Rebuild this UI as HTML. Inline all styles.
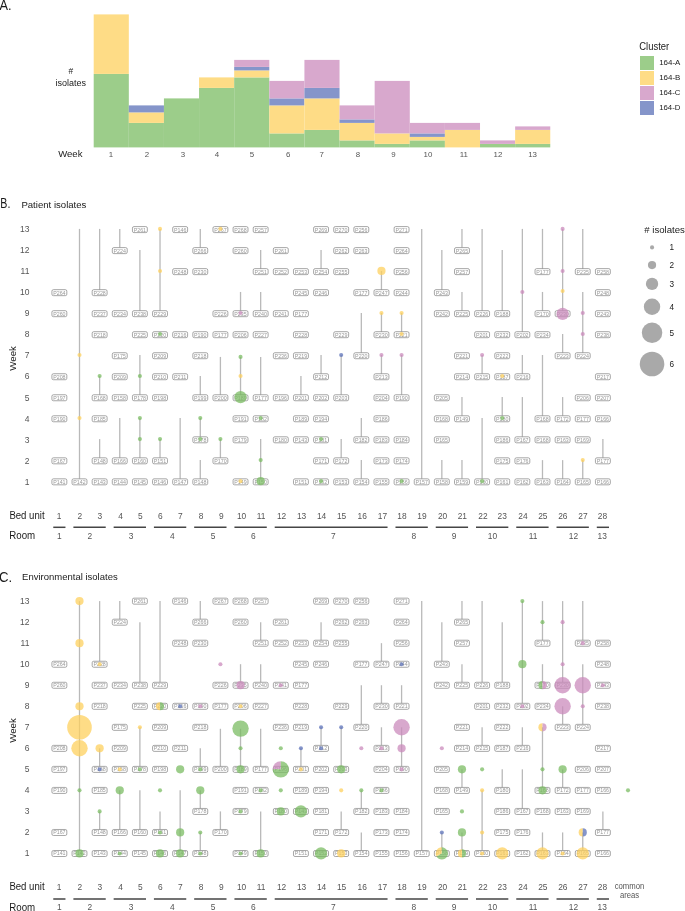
<!DOCTYPE html>
<html><head><meta charset="utf-8"><title>figure</title>
<style>html,body{margin:0;padding:0;background:#fff;width:685px;height:911px;overflow:hidden}</style>
</head><body>
<svg width="685" height="911" viewBox="0 0 685 911" style="display:block;will-change:transform;font-family:'Liberation Sans',sans-serif">
<rect width="685" height="911" fill="#fff"/>
<text transform="translate(-0.5 9.9) scale(0.9 1)" font-size="14.2" fill="#1a1a1a" text-anchor="start">A.</text>
<rect x="93.7" y="73.9" width="35.12" height="73.5" fill="#9ccd8a"/>
<rect x="93.7" y="14.4" width="35.12" height="59.5" fill="#fedc86"/>
<text x="110.9" y="157.1" font-size="7.9" fill="#555555" text-anchor="middle">1</text>
<rect x="128.82" y="122.9" width="35.12" height="24.5" fill="#9ccd8a"/>
<rect x="128.82" y="112.4" width="35.12" height="10.5" fill="#fedc86"/>
<rect x="128.82" y="105.4" width="35.12" height="7" fill="#8595ca"/>
<text x="147" y="157.1" font-size="7.9" fill="#555555" text-anchor="middle">2</text>
<rect x="163.94" y="98.4" width="35.12" height="49" fill="#9ccd8a"/>
<text x="182.9" y="157.1" font-size="7.9" fill="#555555" text-anchor="middle">3</text>
<rect x="199.06" y="87.9" width="35.12" height="59.5" fill="#9ccd8a"/>
<rect x="199.06" y="77.4" width="35.12" height="10.5" fill="#fedc86"/>
<text x="217" y="157.1" font-size="7.9" fill="#555555" text-anchor="middle">4</text>
<rect x="234.18" y="77.4" width="35.12" height="70" fill="#9ccd8a"/>
<rect x="234.18" y="70.4" width="35.12" height="7" fill="#fedc86"/>
<rect x="234.18" y="66.9" width="35.12" height="3.5" fill="#8595ca"/>
<rect x="234.18" y="59.9" width="35.12" height="7" fill="#d8a8cd"/>
<text x="252" y="157.1" font-size="7.9" fill="#555555" text-anchor="middle">5</text>
<rect x="269.3" y="133.4" width="35.12" height="14" fill="#9ccd8a"/>
<rect x="269.3" y="105.4" width="35.12" height="28" fill="#fedc86"/>
<rect x="269.3" y="98.4" width="35.12" height="7" fill="#8595ca"/>
<rect x="269.3" y="80.9" width="35.12" height="17.5" fill="#d8a8cd"/>
<text x="288.2" y="157.1" font-size="7.9" fill="#555555" text-anchor="middle">6</text>
<rect x="304.42" y="129.9" width="35.12" height="17.5" fill="#9ccd8a"/>
<rect x="304.42" y="98.4" width="35.12" height="31.5" fill="#fedc86"/>
<rect x="304.42" y="87.9" width="35.12" height="10.5" fill="#8595ca"/>
<rect x="304.42" y="59.9" width="35.12" height="28" fill="#d8a8cd"/>
<text x="321.6" y="157.1" font-size="7.9" fill="#555555" text-anchor="middle">7</text>
<rect x="339.54" y="140.4" width="35.12" height="7" fill="#9ccd8a"/>
<rect x="339.54" y="122.9" width="35.12" height="17.5" fill="#fedc86"/>
<rect x="339.54" y="119.4" width="35.12" height="3.5" fill="#8595ca"/>
<rect x="339.54" y="105.4" width="35.12" height="14" fill="#d8a8cd"/>
<text x="358" y="157.1" font-size="7.9" fill="#555555" text-anchor="middle">8</text>
<rect x="374.66" y="143.9" width="35.12" height="3.5" fill="#9ccd8a"/>
<rect x="374.66" y="133.4" width="35.12" height="10.5" fill="#fedc86"/>
<rect x="374.66" y="80.9" width="35.12" height="52.5" fill="#d8a8cd"/>
<text x="393.4" y="157.1" font-size="7.9" fill="#555555" text-anchor="middle">9</text>
<rect x="409.78" y="140.4" width="35.12" height="7" fill="#9ccd8a"/>
<rect x="409.78" y="136.9" width="35.12" height="3.5" fill="#fedc86"/>
<rect x="409.78" y="133.4" width="35.12" height="3.5" fill="#8595ca"/>
<rect x="409.78" y="122.9" width="35.12" height="10.5" fill="#d8a8cd"/>
<text x="428" y="157.1" font-size="7.9" fill="#555555" text-anchor="middle">10</text>
<rect x="444.9" y="129.9" width="35.12" height="17.5" fill="#fedc86"/>
<rect x="444.9" y="122.9" width="35.12" height="7" fill="#d8a8cd"/>
<text x="463.8" y="157.1" font-size="7.9" fill="#555555" text-anchor="middle">11</text>
<rect x="480.02" y="143.9" width="35.12" height="3.5" fill="#9ccd8a"/>
<rect x="480.02" y="140.4" width="35.12" height="3.5" fill="#d8a8cd"/>
<text x="498" y="157.1" font-size="7.9" fill="#555555" text-anchor="middle">12</text>
<rect x="515.14" y="143.9" width="35.12" height="3.5" fill="#9ccd8a"/>
<rect x="515.14" y="129.9" width="35.12" height="14" fill="#fedc86"/>
<rect x="515.14" y="126.4" width="35.12" height="3.5" fill="#d8a8cd"/>
<text x="532.6" y="157.1" font-size="7.9" fill="#555555" text-anchor="middle">13</text>
<text x="70.8" y="74.2" font-size="8.4" fill="#1a1a1a" text-anchor="middle">#</text>
<text x="70.65" y="86" font-size="9.1" fill="#1a1a1a" text-anchor="middle" textLength="30.5" lengthAdjust="spacingAndGlyphs">isolates</text>
<text x="70.35" y="157.3" font-size="9.7" fill="#1a1a1a" text-anchor="middle" textLength="24.3" lengthAdjust="spacingAndGlyphs">Week</text>
<text x="639.2" y="49.5" font-size="10.2" fill="#1a1a1a" text-anchor="start" textLength="30" lengthAdjust="spacingAndGlyphs">Cluster</text>
<rect x="640" y="56" width="14" height="14" fill="#9ccd8a"/>
<text x="659.2" y="65.35" font-size="7.6" fill="#1a1a1a" text-anchor="start" textLength="21.2" lengthAdjust="spacingAndGlyphs">164-A</text>
<rect x="640" y="71" width="14" height="14" fill="#fedc86"/>
<text x="659.2" y="80.35" font-size="7.6" fill="#1a1a1a" text-anchor="start" textLength="21.2" lengthAdjust="spacingAndGlyphs">164-B</text>
<rect x="640" y="86" width="14" height="14" fill="#d8a8cd"/>
<text x="659.2" y="95.35" font-size="7.6" fill="#1a1a1a" text-anchor="start" textLength="21.2" lengthAdjust="spacingAndGlyphs">164-C</text>
<rect x="640" y="101" width="14" height="14" fill="#8595ca"/>
<text x="659.2" y="110.35" font-size="7.6" fill="#1a1a1a" text-anchor="start" textLength="21.2" lengthAdjust="spacingAndGlyphs">164-D</text>
<text x="29.4" y="484.59" font-size="8.5" fill="#555555" text-anchor="end">1</text>
<text x="29.4" y="463.57" font-size="8.5" fill="#555555" text-anchor="end">2</text>
<text x="29.4" y="442.55" font-size="8.5" fill="#555555" text-anchor="end">3</text>
<text x="29.4" y="421.53" font-size="8.5" fill="#555555" text-anchor="end">4</text>
<text x="29.4" y="400.51" font-size="8.5" fill="#555555" text-anchor="end">5</text>
<text x="29.4" y="379.49" font-size="8.5" fill="#555555" text-anchor="end">6</text>
<text x="29.4" y="358.47" font-size="8.5" fill="#555555" text-anchor="end">7</text>
<text x="29.4" y="337.45" font-size="8.5" fill="#555555" text-anchor="end">8</text>
<text x="29.4" y="316.43" font-size="8.5" fill="#555555" text-anchor="end">9</text>
<text x="29.4" y="295.41" font-size="8.5" fill="#555555" text-anchor="end">10</text>
<text x="29.4" y="274.39" font-size="8.5" fill="#555555" text-anchor="end">11</text>
<text x="29.4" y="253.37" font-size="8.5" fill="#555555" text-anchor="end">12</text>
<text x="29.4" y="232.35" font-size="8.5" fill="#555555" text-anchor="end">13</text>
<text transform="translate(16.4 358.35) rotate(-90)" font-size="9.7" fill="#1a1a1a" text-anchor="middle">Week</text>
<g stroke="#b9b9b9" stroke-width="1.3">
<line x1="79.5" y1="228.9" x2="79.5" y2="481.84"/>
<line x1="99.63" y1="228.9" x2="99.63" y2="292.66"/>
<line x1="99.63" y1="376.04" x2="99.63" y2="397.76"/>
<line x1="99.63" y1="439.1" x2="99.63" y2="460.82"/>
<line x1="119.76" y1="228.9" x2="119.76" y2="250.62"/>
<line x1="119.76" y1="418.08" x2="119.76" y2="460.82"/>
<line x1="139.89" y1="249.92" x2="139.89" y2="313.68"/>
<line x1="139.89" y1="355.02" x2="139.89" y2="397.76"/>
<line x1="139.89" y1="418.08" x2="139.89" y2="460.82"/>
<line x1="160.02" y1="228.9" x2="160.02" y2="313.68"/>
<line x1="160.02" y1="439.1" x2="160.02" y2="460.82"/>
<line x1="180.15" y1="418.08" x2="180.15" y2="481.84"/>
<line x1="200.28" y1="228.9" x2="200.28" y2="250.62"/>
<line x1="200.28" y1="376.04" x2="200.28" y2="397.76"/>
<line x1="200.28" y1="418.08" x2="200.28" y2="439.8"/>
<line x1="200.28" y1="460.12" x2="200.28" y2="481.84"/>
<line x1="220.41" y1="356.92" x2="220.41" y2="397.76"/>
<line x1="220.41" y1="439.1" x2="220.41" y2="460.82"/>
<line x1="240.54" y1="291.96" x2="240.54" y2="313.68"/>
<line x1="240.54" y1="356.92" x2="240.54" y2="397.76"/>
<line x1="260.67" y1="249.92" x2="260.67" y2="271.64"/>
<line x1="260.67" y1="291.96" x2="260.67" y2="313.68"/>
<line x1="260.67" y1="356.92" x2="260.67" y2="397.76"/>
<line x1="260.67" y1="439.1" x2="260.67" y2="481.84"/>
<line x1="300.93" y1="376.04" x2="300.93" y2="397.76"/>
<line x1="321.06" y1="249.92" x2="321.06" y2="271.64"/>
<line x1="321.06" y1="355.02" x2="321.06" y2="376.74"/>
<line x1="341.19" y1="355.02" x2="341.19" y2="397.76"/>
<line x1="341.19" y1="439.1" x2="341.19" y2="460.82"/>
<line x1="361.32" y1="312.98" x2="361.32" y2="355.72"/>
<line x1="361.32" y1="418.08" x2="361.32" y2="439.8"/>
<line x1="361.32" y1="460.12" x2="361.32" y2="481.84"/>
<line x1="381.45" y1="270.94" x2="381.45" y2="292.66"/>
<line x1="381.45" y1="312.98" x2="381.45" y2="334.7"/>
<line x1="381.45" y1="355.02" x2="381.45" y2="376.74"/>
<line x1="401.58" y1="312.98" x2="401.58" y2="334.7"/>
<line x1="401.58" y1="355.02" x2="401.58" y2="397.76"/>
<line x1="421.71" y1="228.9" x2="421.71" y2="481.84"/>
<line x1="441.84" y1="249.92" x2="441.84" y2="292.66"/>
<line x1="441.84" y1="460.12" x2="441.84" y2="481.84"/>
<line x1="461.97" y1="228.9" x2="461.97" y2="250.62"/>
<line x1="461.97" y1="291.96" x2="461.97" y2="313.68"/>
<line x1="461.97" y1="397.06" x2="461.97" y2="418.78"/>
<line x1="461.97" y1="460.12" x2="461.97" y2="481.84"/>
<line x1="482.1" y1="228.9" x2="482.1" y2="313.68"/>
<line x1="482.1" y1="355.02" x2="482.1" y2="376.74"/>
<line x1="482.1" y1="418.08" x2="482.1" y2="481.84"/>
<line x1="502.23" y1="249.92" x2="502.23" y2="313.68"/>
<line x1="502.23" y1="397.06" x2="502.23" y2="418.78"/>
<line x1="522.36" y1="228.9" x2="522.36" y2="334.7"/>
<line x1="522.36" y1="355.02" x2="522.36" y2="376.74"/>
<line x1="522.36" y1="397.06" x2="522.36" y2="439.8"/>
<line x1="542.49" y1="228.9" x2="542.49" y2="271.64"/>
<line x1="542.49" y1="291.96" x2="542.49" y2="313.68"/>
<line x1="542.49" y1="355.02" x2="542.49" y2="418.78"/>
<line x1="542.49" y1="460.12" x2="542.49" y2="481.84"/>
<line x1="562.62" y1="228.9" x2="562.62" y2="313.68"/>
<line x1="562.62" y1="334" x2="562.62" y2="355.72"/>
<line x1="562.62" y1="397.06" x2="562.62" y2="418.78"/>
<line x1="562.62" y1="460.12" x2="562.62" y2="481.84"/>
<line x1="582.75" y1="228.9" x2="582.75" y2="271.64"/>
<line x1="582.75" y1="291.96" x2="582.75" y2="355.72"/>
<line x1="582.75" y1="460.12" x2="582.75" y2="481.84"/>
<line x1="602.88" y1="439.1" x2="602.88" y2="460.82"/>
</g>
<g fill="#fff" stroke="#8a8a8a" stroke-width="0.75">
<rect x="51.92" y="289.66" width="14.9" height="6" rx="1.5"/>
<rect x="51.92" y="310.68" width="14.9" height="6" rx="1.5"/>
<rect x="51.92" y="373.74" width="14.9" height="6" rx="1.5"/>
<rect x="51.92" y="394.76" width="14.9" height="6" rx="1.5"/>
<rect x="51.92" y="415.78" width="14.9" height="6" rx="1.5"/>
<rect x="51.92" y="457.82" width="14.9" height="6" rx="1.5"/>
<rect x="51.92" y="478.84" width="14.9" height="6" rx="1.5"/>
<rect x="72.05" y="478.84" width="14.9" height="6" rx="1.5"/>
<rect x="92.18" y="289.66" width="14.9" height="6" rx="1.5"/>
<rect x="92.18" y="310.68" width="14.9" height="6" rx="1.5"/>
<rect x="92.18" y="331.7" width="14.9" height="6" rx="1.5"/>
<rect x="92.18" y="394.76" width="14.9" height="6" rx="1.5"/>
<rect x="92.18" y="415.78" width="14.9" height="6" rx="1.5"/>
<rect x="92.18" y="457.82" width="14.9" height="6" rx="1.5"/>
<rect x="92.18" y="478.84" width="14.9" height="6" rx="1.5"/>
<rect x="112.31" y="247.62" width="14.9" height="6" rx="1.5"/>
<rect x="112.31" y="310.68" width="14.9" height="6" rx="1.5"/>
<rect x="112.31" y="352.72" width="14.9" height="6" rx="1.5"/>
<rect x="112.31" y="373.74" width="14.9" height="6" rx="1.5"/>
<rect x="112.31" y="394.76" width="14.9" height="6" rx="1.5"/>
<rect x="112.31" y="457.82" width="14.9" height="6" rx="1.5"/>
<rect x="112.31" y="478.84" width="14.9" height="6" rx="1.5"/>
<rect x="132.44" y="226.6" width="14.9" height="6" rx="1.5"/>
<rect x="132.44" y="310.68" width="14.9" height="6" rx="1.5"/>
<rect x="132.44" y="331.7" width="14.9" height="6" rx="1.5"/>
<rect x="132.44" y="394.76" width="14.9" height="6" rx="1.5"/>
<rect x="132.44" y="457.82" width="14.9" height="6" rx="1.5"/>
<rect x="132.44" y="478.84" width="14.9" height="6" rx="1.5"/>
<rect x="152.57" y="310.68" width="14.9" height="6" rx="1.5"/>
<rect x="152.57" y="331.7" width="14.9" height="6" rx="1.5"/>
<rect x="152.57" y="352.72" width="14.9" height="6" rx="1.5"/>
<rect x="152.57" y="373.74" width="14.9" height="6" rx="1.5"/>
<rect x="152.57" y="394.76" width="14.9" height="6" rx="1.5"/>
<rect x="152.57" y="457.82" width="14.9" height="6" rx="1.5"/>
<rect x="152.57" y="478.84" width="14.9" height="6" rx="1.5"/>
<rect x="172.7" y="226.6" width="14.9" height="6" rx="1.5"/>
<rect x="172.7" y="268.64" width="14.9" height="6" rx="1.5"/>
<rect x="172.7" y="331.7" width="14.9" height="6" rx="1.5"/>
<rect x="172.7" y="373.74" width="14.9" height="6" rx="1.5"/>
<rect x="172.7" y="478.84" width="14.9" height="6" rx="1.5"/>
<rect x="192.83" y="247.62" width="14.9" height="6" rx="1.5"/>
<rect x="192.83" y="268.64" width="14.9" height="6" rx="1.5"/>
<rect x="192.83" y="331.7" width="14.9" height="6" rx="1.5"/>
<rect x="192.83" y="352.72" width="14.9" height="6" rx="1.5"/>
<rect x="192.83" y="394.76" width="14.9" height="6" rx="1.5"/>
<rect x="192.83" y="436.8" width="14.9" height="6" rx="1.5"/>
<rect x="192.83" y="478.84" width="14.9" height="6" rx="1.5"/>
<rect x="212.96" y="226.6" width="14.9" height="6" rx="1.5"/>
<rect x="212.96" y="310.68" width="14.9" height="6" rx="1.5"/>
<rect x="212.96" y="331.7" width="14.9" height="6" rx="1.5"/>
<rect x="212.96" y="394.76" width="14.9" height="6" rx="1.5"/>
<rect x="212.96" y="457.82" width="14.9" height="6" rx="1.5"/>
<rect x="233.09" y="226.6" width="14.9" height="6" rx="1.5"/>
<rect x="233.09" y="247.62" width="14.9" height="6" rx="1.5"/>
<rect x="233.09" y="310.68" width="14.9" height="6" rx="1.5"/>
<rect x="233.09" y="331.7" width="14.9" height="6" rx="1.5"/>
<rect x="233.09" y="394.76" width="14.9" height="6" rx="1.5"/>
<rect x="233.09" y="415.78" width="14.9" height="6" rx="1.5"/>
<rect x="233.09" y="436.8" width="14.9" height="6" rx="1.5"/>
<rect x="233.09" y="478.84" width="14.9" height="6" rx="1.5"/>
<rect x="253.22" y="226.6" width="14.9" height="6" rx="1.5"/>
<rect x="253.22" y="268.64" width="14.9" height="6" rx="1.5"/>
<rect x="253.22" y="310.68" width="14.9" height="6" rx="1.5"/>
<rect x="253.22" y="331.7" width="14.9" height="6" rx="1.5"/>
<rect x="253.22" y="394.76" width="14.9" height="6" rx="1.5"/>
<rect x="253.22" y="415.78" width="14.9" height="6" rx="1.5"/>
<rect x="253.22" y="478.84" width="14.9" height="6" rx="1.5"/>
<rect x="273.35" y="247.62" width="14.9" height="6" rx="1.5"/>
<rect x="273.35" y="268.64" width="14.9" height="6" rx="1.5"/>
<rect x="273.35" y="310.68" width="14.9" height="6" rx="1.5"/>
<rect x="273.35" y="352.72" width="14.9" height="6" rx="1.5"/>
<rect x="273.35" y="394.76" width="14.9" height="6" rx="1.5"/>
<rect x="273.35" y="436.8" width="14.9" height="6" rx="1.5"/>
<rect x="293.48" y="268.64" width="14.9" height="6" rx="1.5"/>
<rect x="293.48" y="289.66" width="14.9" height="6" rx="1.5"/>
<rect x="293.48" y="310.68" width="14.9" height="6" rx="1.5"/>
<rect x="293.48" y="331.7" width="14.9" height="6" rx="1.5"/>
<rect x="293.48" y="352.72" width="14.9" height="6" rx="1.5"/>
<rect x="293.48" y="394.76" width="14.9" height="6" rx="1.5"/>
<rect x="293.48" y="415.78" width="14.9" height="6" rx="1.5"/>
<rect x="293.48" y="436.8" width="14.9" height="6" rx="1.5"/>
<rect x="293.48" y="478.84" width="14.9" height="6" rx="1.5"/>
<rect x="313.61" y="226.6" width="14.9" height="6" rx="1.5"/>
<rect x="313.61" y="268.64" width="14.9" height="6" rx="1.5"/>
<rect x="313.61" y="289.66" width="14.9" height="6" rx="1.5"/>
<rect x="313.61" y="373.74" width="14.9" height="6" rx="1.5"/>
<rect x="313.61" y="394.76" width="14.9" height="6" rx="1.5"/>
<rect x="313.61" y="415.78" width="14.9" height="6" rx="1.5"/>
<rect x="313.61" y="436.8" width="14.9" height="6" rx="1.5"/>
<rect x="313.61" y="457.82" width="14.9" height="6" rx="1.5"/>
<rect x="313.61" y="478.84" width="14.9" height="6" rx="1.5"/>
<rect x="333.74" y="226.6" width="14.9" height="6" rx="1.5"/>
<rect x="333.74" y="247.62" width="14.9" height="6" rx="1.5"/>
<rect x="333.74" y="268.64" width="14.9" height="6" rx="1.5"/>
<rect x="333.74" y="331.7" width="14.9" height="6" rx="1.5"/>
<rect x="333.74" y="394.76" width="14.9" height="6" rx="1.5"/>
<rect x="333.74" y="457.82" width="14.9" height="6" rx="1.5"/>
<rect x="333.74" y="478.84" width="14.9" height="6" rx="1.5"/>
<rect x="353.87" y="226.6" width="14.9" height="6" rx="1.5"/>
<rect x="353.87" y="247.62" width="14.9" height="6" rx="1.5"/>
<rect x="353.87" y="289.66" width="14.9" height="6" rx="1.5"/>
<rect x="353.87" y="352.72" width="14.9" height="6" rx="1.5"/>
<rect x="353.87" y="436.8" width="14.9" height="6" rx="1.5"/>
<rect x="353.87" y="478.84" width="14.9" height="6" rx="1.5"/>
<rect x="374" y="289.66" width="14.9" height="6" rx="1.5"/>
<rect x="374" y="331.7" width="14.9" height="6" rx="1.5"/>
<rect x="374" y="373.74" width="14.9" height="6" rx="1.5"/>
<rect x="374" y="394.76" width="14.9" height="6" rx="1.5"/>
<rect x="374" y="415.78" width="14.9" height="6" rx="1.5"/>
<rect x="374" y="436.8" width="14.9" height="6" rx="1.5"/>
<rect x="374" y="457.82" width="14.9" height="6" rx="1.5"/>
<rect x="374" y="478.84" width="14.9" height="6" rx="1.5"/>
<rect x="394.13" y="226.6" width="14.9" height="6" rx="1.5"/>
<rect x="394.13" y="247.62" width="14.9" height="6" rx="1.5"/>
<rect x="394.13" y="268.64" width="14.9" height="6" rx="1.5"/>
<rect x="394.13" y="289.66" width="14.9" height="6" rx="1.5"/>
<rect x="394.13" y="331.7" width="14.9" height="6" rx="1.5"/>
<rect x="394.13" y="394.76" width="14.9" height="6" rx="1.5"/>
<rect x="394.13" y="436.8" width="14.9" height="6" rx="1.5"/>
<rect x="394.13" y="457.82" width="14.9" height="6" rx="1.5"/>
<rect x="394.13" y="478.84" width="14.9" height="6" rx="1.5"/>
<rect x="414.26" y="478.84" width="14.9" height="6" rx="1.5"/>
<rect x="434.39" y="289.66" width="14.9" height="6" rx="1.5"/>
<rect x="434.39" y="310.68" width="14.9" height="6" rx="1.5"/>
<rect x="434.39" y="394.76" width="14.9" height="6" rx="1.5"/>
<rect x="434.39" y="415.78" width="14.9" height="6" rx="1.5"/>
<rect x="434.39" y="436.8" width="14.9" height="6" rx="1.5"/>
<rect x="434.39" y="478.84" width="14.9" height="6" rx="1.5"/>
<rect x="454.52" y="247.62" width="14.9" height="6" rx="1.5"/>
<rect x="454.52" y="268.64" width="14.9" height="6" rx="1.5"/>
<rect x="454.52" y="310.68" width="14.9" height="6" rx="1.5"/>
<rect x="454.52" y="352.72" width="14.9" height="6" rx="1.5"/>
<rect x="454.52" y="373.74" width="14.9" height="6" rx="1.5"/>
<rect x="454.52" y="415.78" width="14.9" height="6" rx="1.5"/>
<rect x="454.52" y="478.84" width="14.9" height="6" rx="1.5"/>
<rect x="474.65" y="310.68" width="14.9" height="6" rx="1.5"/>
<rect x="474.65" y="331.7" width="14.9" height="6" rx="1.5"/>
<rect x="474.65" y="373.74" width="14.9" height="6" rx="1.5"/>
<rect x="474.65" y="478.84" width="14.9" height="6" rx="1.5"/>
<rect x="494.78" y="310.68" width="14.9" height="6" rx="1.5"/>
<rect x="494.78" y="331.7" width="14.9" height="6" rx="1.5"/>
<rect x="494.78" y="352.72" width="14.9" height="6" rx="1.5"/>
<rect x="494.78" y="373.74" width="14.9" height="6" rx="1.5"/>
<rect x="494.78" y="415.78" width="14.9" height="6" rx="1.5"/>
<rect x="494.78" y="436.8" width="14.9" height="6" rx="1.5"/>
<rect x="494.78" y="457.82" width="14.9" height="6" rx="1.5"/>
<rect x="494.78" y="478.84" width="14.9" height="6" rx="1.5"/>
<rect x="514.91" y="331.7" width="14.9" height="6" rx="1.5"/>
<rect x="514.91" y="373.74" width="14.9" height="6" rx="1.5"/>
<rect x="514.91" y="436.8" width="14.9" height="6" rx="1.5"/>
<rect x="514.91" y="457.82" width="14.9" height="6" rx="1.5"/>
<rect x="514.91" y="478.84" width="14.9" height="6" rx="1.5"/>
<rect x="535.04" y="268.64" width="14.9" height="6" rx="1.5"/>
<rect x="535.04" y="310.68" width="14.9" height="6" rx="1.5"/>
<rect x="535.04" y="331.7" width="14.9" height="6" rx="1.5"/>
<rect x="535.04" y="415.78" width="14.9" height="6" rx="1.5"/>
<rect x="535.04" y="436.8" width="14.9" height="6" rx="1.5"/>
<rect x="535.04" y="478.84" width="14.9" height="6" rx="1.5"/>
<rect x="555.17" y="310.68" width="14.9" height="6" rx="1.5"/>
<rect x="555.17" y="352.72" width="14.9" height="6" rx="1.5"/>
<rect x="555.17" y="415.78" width="14.9" height="6" rx="1.5"/>
<rect x="555.17" y="436.8" width="14.9" height="6" rx="1.5"/>
<rect x="555.17" y="478.84" width="14.9" height="6" rx="1.5"/>
<rect x="575.3" y="268.64" width="14.9" height="6" rx="1.5"/>
<rect x="575.3" y="352.72" width="14.9" height="6" rx="1.5"/>
<rect x="575.3" y="394.76" width="14.9" height="6" rx="1.5"/>
<rect x="575.3" y="415.78" width="14.9" height="6" rx="1.5"/>
<rect x="575.3" y="436.8" width="14.9" height="6" rx="1.5"/>
<rect x="575.3" y="478.84" width="14.9" height="6" rx="1.5"/>
<rect x="595.43" y="268.64" width="14.9" height="6" rx="1.5"/>
<rect x="595.43" y="289.66" width="14.9" height="6" rx="1.5"/>
<rect x="595.43" y="310.68" width="14.9" height="6" rx="1.5"/>
<rect x="595.43" y="331.7" width="14.9" height="6" rx="1.5"/>
<rect x="595.43" y="373.74" width="14.9" height="6" rx="1.5"/>
<rect x="595.43" y="394.76" width="14.9" height="6" rx="1.5"/>
<rect x="595.43" y="415.78" width="14.9" height="6" rx="1.5"/>
<rect x="595.43" y="457.82" width="14.9" height="6" rx="1.5"/>
<rect x="595.43" y="478.84" width="14.9" height="6" rx="1.5"/>
</g>
<g font-size="5.7" fill="#999" text-anchor="middle">
<text x="59.37" y="294.61" textLength="12.4" lengthAdjust="spacingAndGlyphs">P264</text>
<text x="59.37" y="315.63" textLength="12.4" lengthAdjust="spacingAndGlyphs">P260</text>
<text x="59.37" y="378.69" textLength="12.4" lengthAdjust="spacingAndGlyphs">P208</text>
<text x="59.37" y="399.71" textLength="12.4" lengthAdjust="spacingAndGlyphs">P197</text>
<text x="59.37" y="420.73" textLength="12.4" lengthAdjust="spacingAndGlyphs">P190</text>
<text x="59.37" y="462.77" textLength="12.4" lengthAdjust="spacingAndGlyphs">P167</text>
<text x="59.37" y="483.79" textLength="12.4" lengthAdjust="spacingAndGlyphs">P141</text>
<text x="79.5" y="483.79" textLength="12.4" lengthAdjust="spacingAndGlyphs">P142</text>
<text x="99.63" y="294.61" textLength="12.4" lengthAdjust="spacingAndGlyphs">P228</text>
<text x="99.63" y="315.63" textLength="12.4" lengthAdjust="spacingAndGlyphs">P237</text>
<text x="99.63" y="336.65" textLength="12.4" lengthAdjust="spacingAndGlyphs">P218</text>
<text x="99.63" y="399.71" textLength="12.4" lengthAdjust="spacingAndGlyphs">P168</text>
<text x="99.63" y="420.73" textLength="12.4" lengthAdjust="spacingAndGlyphs">P185</text>
<text x="99.63" y="462.77" textLength="12.4" lengthAdjust="spacingAndGlyphs">P148</text>
<text x="99.63" y="483.79" textLength="12.4" lengthAdjust="spacingAndGlyphs">P143</text>
<text x="119.76" y="252.57" textLength="12.4" lengthAdjust="spacingAndGlyphs">P224</text>
<text x="119.76" y="315.63" textLength="12.4" lengthAdjust="spacingAndGlyphs">P234</text>
<text x="119.76" y="357.67" textLength="12.4" lengthAdjust="spacingAndGlyphs">P175</text>
<text x="119.76" y="378.69" textLength="12.4" lengthAdjust="spacingAndGlyphs">P209</text>
<text x="119.76" y="399.71" textLength="12.4" lengthAdjust="spacingAndGlyphs">P158</text>
<text x="119.76" y="462.77" textLength="12.4" lengthAdjust="spacingAndGlyphs">P166</text>
<text x="119.76" y="483.79" textLength="12.4" lengthAdjust="spacingAndGlyphs">P144</text>
<text x="139.89" y="231.55" textLength="12.4" lengthAdjust="spacingAndGlyphs">P261</text>
<text x="139.89" y="315.63" textLength="12.4" lengthAdjust="spacingAndGlyphs">P238</text>
<text x="139.89" y="336.65" textLength="12.4" lengthAdjust="spacingAndGlyphs">P225</text>
<text x="139.89" y="399.71" textLength="12.4" lengthAdjust="spacingAndGlyphs">P178</text>
<text x="139.89" y="462.77" textLength="12.4" lengthAdjust="spacingAndGlyphs">P160</text>
<text x="139.89" y="483.79" textLength="12.4" lengthAdjust="spacingAndGlyphs">P145</text>
<text x="160.02" y="315.63" textLength="12.4" lengthAdjust="spacingAndGlyphs">P229</text>
<text x="160.02" y="336.65" textLength="12.4" lengthAdjust="spacingAndGlyphs">P220</text>
<text x="160.02" y="357.67" textLength="12.4" lengthAdjust="spacingAndGlyphs">P209</text>
<text x="160.02" y="378.69" textLength="12.4" lengthAdjust="spacingAndGlyphs">P210</text>
<text x="160.02" y="399.71" textLength="12.4" lengthAdjust="spacingAndGlyphs">P198</text>
<text x="160.02" y="462.77" textLength="12.4" lengthAdjust="spacingAndGlyphs">P151</text>
<text x="160.02" y="483.79" textLength="12.4" lengthAdjust="spacingAndGlyphs">P146</text>
<text x="180.15" y="231.55" textLength="12.4" lengthAdjust="spacingAndGlyphs">P146</text>
<text x="180.15" y="273.59" textLength="12.4" lengthAdjust="spacingAndGlyphs">P248</text>
<text x="180.15" y="336.65" textLength="12.4" lengthAdjust="spacingAndGlyphs">P216</text>
<text x="180.15" y="378.69" textLength="12.4" lengthAdjust="spacingAndGlyphs">P211</text>
<text x="180.15" y="483.79" textLength="12.4" lengthAdjust="spacingAndGlyphs">P147</text>
<text x="200.28" y="252.57" textLength="12.4" lengthAdjust="spacingAndGlyphs">P266</text>
<text x="200.28" y="273.59" textLength="12.4" lengthAdjust="spacingAndGlyphs">P230</text>
<text x="200.28" y="336.65" textLength="12.4" lengthAdjust="spacingAndGlyphs">P190</text>
<text x="200.28" y="357.67" textLength="12.4" lengthAdjust="spacingAndGlyphs">P218</text>
<text x="200.28" y="399.71" textLength="12.4" lengthAdjust="spacingAndGlyphs">P199</text>
<text x="200.28" y="441.75" textLength="12.4" lengthAdjust="spacingAndGlyphs">P178</text>
<text x="200.28" y="483.79" textLength="12.4" lengthAdjust="spacingAndGlyphs">P148</text>
<text x="220.41" y="231.55" textLength="12.4" lengthAdjust="spacingAndGlyphs">P267</text>
<text x="220.41" y="315.63" textLength="12.4" lengthAdjust="spacingAndGlyphs">P226</text>
<text x="220.41" y="336.65" textLength="12.4" lengthAdjust="spacingAndGlyphs">P177</text>
<text x="220.41" y="399.71" textLength="12.4" lengthAdjust="spacingAndGlyphs">P200</text>
<text x="220.41" y="462.77" textLength="12.4" lengthAdjust="spacingAndGlyphs">P170</text>
<text x="240.54" y="231.55" textLength="12.4" lengthAdjust="spacingAndGlyphs">P268</text>
<text x="240.54" y="252.57" textLength="12.4" lengthAdjust="spacingAndGlyphs">P260</text>
<text x="240.54" y="315.63" textLength="12.4" lengthAdjust="spacingAndGlyphs">P235</text>
<text x="240.54" y="336.65" textLength="12.4" lengthAdjust="spacingAndGlyphs">P206</text>
<text x="240.54" y="399.71" textLength="12.4" lengthAdjust="spacingAndGlyphs">P189</text>
<text x="240.54" y="420.73" textLength="12.4" lengthAdjust="spacingAndGlyphs">P191</text>
<text x="240.54" y="441.75" textLength="12.4" lengthAdjust="spacingAndGlyphs">P179</text>
<text x="240.54" y="483.79" textLength="12.4" lengthAdjust="spacingAndGlyphs">P149</text>
<text x="260.67" y="231.55" textLength="12.4" lengthAdjust="spacingAndGlyphs">P257</text>
<text x="260.67" y="273.59" textLength="12.4" lengthAdjust="spacingAndGlyphs">P251</text>
<text x="260.67" y="315.63" textLength="12.4" lengthAdjust="spacingAndGlyphs">P240</text>
<text x="260.67" y="336.65" textLength="12.4" lengthAdjust="spacingAndGlyphs">P227</text>
<text x="260.67" y="399.71" textLength="12.4" lengthAdjust="spacingAndGlyphs">P177</text>
<text x="260.67" y="420.73" textLength="12.4" lengthAdjust="spacingAndGlyphs">P182</text>
<text x="260.67" y="483.79" textLength="12.4" lengthAdjust="spacingAndGlyphs">P150</text>
<text x="280.8" y="252.57" textLength="12.4" lengthAdjust="spacingAndGlyphs">P261</text>
<text x="280.8" y="273.59" textLength="12.4" lengthAdjust="spacingAndGlyphs">P252</text>
<text x="280.8" y="315.63" textLength="12.4" lengthAdjust="spacingAndGlyphs">P241</text>
<text x="280.8" y="357.67" textLength="12.4" lengthAdjust="spacingAndGlyphs">P236</text>
<text x="280.8" y="399.71" textLength="12.4" lengthAdjust="spacingAndGlyphs">P196</text>
<text x="280.8" y="441.75" textLength="12.4" lengthAdjust="spacingAndGlyphs">P180</text>
<text x="300.93" y="273.59" textLength="12.4" lengthAdjust="spacingAndGlyphs">P253</text>
<text x="300.93" y="294.61" textLength="12.4" lengthAdjust="spacingAndGlyphs">P245</text>
<text x="300.93" y="315.63" textLength="12.4" lengthAdjust="spacingAndGlyphs">P177</text>
<text x="300.93" y="336.65" textLength="12.4" lengthAdjust="spacingAndGlyphs">P228</text>
<text x="300.93" y="357.67" textLength="12.4" lengthAdjust="spacingAndGlyphs">P219</text>
<text x="300.93" y="399.71" textLength="12.4" lengthAdjust="spacingAndGlyphs">P201</text>
<text x="300.93" y="420.73" textLength="12.4" lengthAdjust="spacingAndGlyphs">P189</text>
<text x="300.93" y="441.75" textLength="12.4" lengthAdjust="spacingAndGlyphs">P143</text>
<text x="300.93" y="483.79" textLength="12.4" lengthAdjust="spacingAndGlyphs">P151</text>
<text x="321.06" y="231.55" textLength="12.4" lengthAdjust="spacingAndGlyphs">P269</text>
<text x="321.06" y="273.59" textLength="12.4" lengthAdjust="spacingAndGlyphs">P254</text>
<text x="321.06" y="294.61" textLength="12.4" lengthAdjust="spacingAndGlyphs">P246</text>
<text x="321.06" y="378.69" textLength="12.4" lengthAdjust="spacingAndGlyphs">P212</text>
<text x="321.06" y="399.71" textLength="12.4" lengthAdjust="spacingAndGlyphs">P202</text>
<text x="321.06" y="420.73" textLength="12.4" lengthAdjust="spacingAndGlyphs">P194</text>
<text x="321.06" y="441.75" textLength="12.4" lengthAdjust="spacingAndGlyphs">P181</text>
<text x="321.06" y="462.77" textLength="12.4" lengthAdjust="spacingAndGlyphs">P171</text>
<text x="321.06" y="483.79" textLength="12.4" lengthAdjust="spacingAndGlyphs">P152</text>
<text x="341.19" y="231.55" textLength="12.4" lengthAdjust="spacingAndGlyphs">P270</text>
<text x="341.19" y="252.57" textLength="12.4" lengthAdjust="spacingAndGlyphs">P262</text>
<text x="341.19" y="273.59" textLength="12.4" lengthAdjust="spacingAndGlyphs">P255</text>
<text x="341.19" y="336.65" textLength="12.4" lengthAdjust="spacingAndGlyphs">P229</text>
<text x="341.19" y="399.71" textLength="12.4" lengthAdjust="spacingAndGlyphs">P203</text>
<text x="341.19" y="462.77" textLength="12.4" lengthAdjust="spacingAndGlyphs">P172</text>
<text x="341.19" y="483.79" textLength="12.4" lengthAdjust="spacingAndGlyphs">P153</text>
<text x="361.32" y="231.55" textLength="12.4" lengthAdjust="spacingAndGlyphs">P256</text>
<text x="361.32" y="252.57" textLength="12.4" lengthAdjust="spacingAndGlyphs">P263</text>
<text x="361.32" y="294.61" textLength="12.4" lengthAdjust="spacingAndGlyphs">P177</text>
<text x="361.32" y="357.67" textLength="12.4" lengthAdjust="spacingAndGlyphs">P220</text>
<text x="361.32" y="441.75" textLength="12.4" lengthAdjust="spacingAndGlyphs">P182</text>
<text x="361.32" y="483.79" textLength="12.4" lengthAdjust="spacingAndGlyphs">P154</text>
<text x="381.45" y="294.61" textLength="12.4" lengthAdjust="spacingAndGlyphs">P247</text>
<text x="381.45" y="336.65" textLength="12.4" lengthAdjust="spacingAndGlyphs">P230</text>
<text x="381.45" y="378.69" textLength="12.4" lengthAdjust="spacingAndGlyphs">P213</text>
<text x="381.45" y="399.71" textLength="12.4" lengthAdjust="spacingAndGlyphs">P204</text>
<text x="381.45" y="420.73" textLength="12.4" lengthAdjust="spacingAndGlyphs">P186</text>
<text x="381.45" y="441.75" textLength="12.4" lengthAdjust="spacingAndGlyphs">P183</text>
<text x="381.45" y="462.77" textLength="12.4" lengthAdjust="spacingAndGlyphs">P173</text>
<text x="381.45" y="483.79" textLength="12.4" lengthAdjust="spacingAndGlyphs">P155</text>
<text x="401.58" y="231.55" textLength="12.4" lengthAdjust="spacingAndGlyphs">P271</text>
<text x="401.58" y="252.57" textLength="12.4" lengthAdjust="spacingAndGlyphs">P264</text>
<text x="401.58" y="273.59" textLength="12.4" lengthAdjust="spacingAndGlyphs">P256</text>
<text x="401.58" y="294.61" textLength="12.4" lengthAdjust="spacingAndGlyphs">P244</text>
<text x="401.58" y="336.65" textLength="12.4" lengthAdjust="spacingAndGlyphs">P221</text>
<text x="401.58" y="399.71" textLength="12.4" lengthAdjust="spacingAndGlyphs">P190</text>
<text x="401.58" y="441.75" textLength="12.4" lengthAdjust="spacingAndGlyphs">P184</text>
<text x="401.58" y="462.77" textLength="12.4" lengthAdjust="spacingAndGlyphs">P174</text>
<text x="401.58" y="483.79" textLength="12.4" lengthAdjust="spacingAndGlyphs">P156</text>
<text x="421.71" y="483.79" textLength="12.4" lengthAdjust="spacingAndGlyphs">P157</text>
<text x="441.84" y="294.61" textLength="12.4" lengthAdjust="spacingAndGlyphs">P243</text>
<text x="441.84" y="315.63" textLength="12.4" lengthAdjust="spacingAndGlyphs">P242</text>
<text x="441.84" y="399.71" textLength="12.4" lengthAdjust="spacingAndGlyphs">P205</text>
<text x="441.84" y="420.73" textLength="12.4" lengthAdjust="spacingAndGlyphs">P168</text>
<text x="441.84" y="441.75" textLength="12.4" lengthAdjust="spacingAndGlyphs">P165</text>
<text x="441.84" y="483.79" textLength="12.4" lengthAdjust="spacingAndGlyphs">P158</text>
<text x="461.97" y="252.57" textLength="12.4" lengthAdjust="spacingAndGlyphs">P265</text>
<text x="461.97" y="273.59" textLength="12.4" lengthAdjust="spacingAndGlyphs">P257</text>
<text x="461.97" y="315.63" textLength="12.4" lengthAdjust="spacingAndGlyphs">P225</text>
<text x="461.97" y="357.67" textLength="12.4" lengthAdjust="spacingAndGlyphs">P221</text>
<text x="461.97" y="378.69" textLength="12.4" lengthAdjust="spacingAndGlyphs">P214</text>
<text x="461.97" y="420.73" textLength="12.4" lengthAdjust="spacingAndGlyphs">P149</text>
<text x="461.97" y="483.79" textLength="12.4" lengthAdjust="spacingAndGlyphs">P159</text>
<text x="482.1" y="315.63" textLength="12.4" lengthAdjust="spacingAndGlyphs">P226</text>
<text x="482.1" y="336.65" textLength="12.4" lengthAdjust="spacingAndGlyphs">P201</text>
<text x="482.1" y="378.69" textLength="12.4" lengthAdjust="spacingAndGlyphs">P215</text>
<text x="482.1" y="483.79" textLength="12.4" lengthAdjust="spacingAndGlyphs">P160</text>
<text x="502.23" y="315.63" textLength="12.4" lengthAdjust="spacingAndGlyphs">P188</text>
<text x="502.23" y="336.65" textLength="12.4" lengthAdjust="spacingAndGlyphs">P232</text>
<text x="502.23" y="357.67" textLength="12.4" lengthAdjust="spacingAndGlyphs">P222</text>
<text x="502.23" y="378.69" textLength="12.4" lengthAdjust="spacingAndGlyphs">P187</text>
<text x="502.23" y="420.73" textLength="12.4" lengthAdjust="spacingAndGlyphs">P180</text>
<text x="502.23" y="441.75" textLength="12.4" lengthAdjust="spacingAndGlyphs">P186</text>
<text x="502.23" y="462.77" textLength="12.4" lengthAdjust="spacingAndGlyphs">P175</text>
<text x="502.23" y="483.79" textLength="12.4" lengthAdjust="spacingAndGlyphs">P161</text>
<text x="522.36" y="336.65" textLength="12.4" lengthAdjust="spacingAndGlyphs">P202</text>
<text x="522.36" y="378.69" textLength="12.4" lengthAdjust="spacingAndGlyphs">P216</text>
<text x="522.36" y="441.75" textLength="12.4" lengthAdjust="spacingAndGlyphs">P167</text>
<text x="522.36" y="462.77" textLength="12.4" lengthAdjust="spacingAndGlyphs">P176</text>
<text x="522.36" y="483.79" textLength="12.4" lengthAdjust="spacingAndGlyphs">P162</text>
<text x="542.49" y="273.59" textLength="12.4" lengthAdjust="spacingAndGlyphs">P177</text>
<text x="542.49" y="315.63" textLength="12.4" lengthAdjust="spacingAndGlyphs">P170</text>
<text x="542.49" y="336.65" textLength="12.4" lengthAdjust="spacingAndGlyphs">P234</text>
<text x="542.49" y="420.73" textLength="12.4" lengthAdjust="spacingAndGlyphs">P168</text>
<text x="542.49" y="441.75" textLength="12.4" lengthAdjust="spacingAndGlyphs">P168</text>
<text x="542.49" y="483.79" textLength="12.4" lengthAdjust="spacingAndGlyphs">P163</text>
<text x="562.62" y="315.63" textLength="12.4" lengthAdjust="spacingAndGlyphs">P230</text>
<text x="562.62" y="357.67" textLength="12.4" lengthAdjust="spacingAndGlyphs">P223</text>
<text x="562.62" y="420.73" textLength="12.4" lengthAdjust="spacingAndGlyphs">P172</text>
<text x="562.62" y="441.75" textLength="12.4" lengthAdjust="spacingAndGlyphs">P163</text>
<text x="562.62" y="483.79" textLength="12.4" lengthAdjust="spacingAndGlyphs">P164</text>
<text x="582.75" y="273.59" textLength="12.4" lengthAdjust="spacingAndGlyphs">P235</text>
<text x="582.75" y="357.67" textLength="12.4" lengthAdjust="spacingAndGlyphs">P224</text>
<text x="582.75" y="399.71" textLength="12.4" lengthAdjust="spacingAndGlyphs">P206</text>
<text x="582.75" y="420.73" textLength="12.4" lengthAdjust="spacingAndGlyphs">P177</text>
<text x="582.75" y="441.75" textLength="12.4" lengthAdjust="spacingAndGlyphs">P169</text>
<text x="582.75" y="483.79" textLength="12.4" lengthAdjust="spacingAndGlyphs">P165</text>
<text x="602.88" y="273.59" textLength="12.4" lengthAdjust="spacingAndGlyphs">P258</text>
<text x="602.88" y="294.61" textLength="12.4" lengthAdjust="spacingAndGlyphs">P248</text>
<text x="602.88" y="315.63" textLength="12.4" lengthAdjust="spacingAndGlyphs">P243</text>
<text x="602.88" y="336.65" textLength="12.4" lengthAdjust="spacingAndGlyphs">P238</text>
<text x="602.88" y="378.69" textLength="12.4" lengthAdjust="spacingAndGlyphs">P217</text>
<text x="602.88" y="399.71" textLength="12.4" lengthAdjust="spacingAndGlyphs">P207</text>
<text x="602.88" y="420.73" textLength="12.4" lengthAdjust="spacingAndGlyphs">P166</text>
<text x="602.88" y="462.77" textLength="12.4" lengthAdjust="spacingAndGlyphs">P177</text>
<text x="602.88" y="483.79" textLength="12.4" lengthAdjust="spacingAndGlyphs">P166</text>
</g>
<circle cx="79.5" cy="355.02" r="2.05" fill="#fed05e" fill-opacity="0.75"/>
<circle cx="79.5" cy="418.08" r="2.05" fill="#fed05e" fill-opacity="0.75"/>
<circle cx="99.63" cy="376.04" r="2.05" fill="#7bbc63" fill-opacity="0.75"/>
<circle cx="139.89" cy="376.04" r="2.05" fill="#7bbc63" fill-opacity="0.75"/>
<circle cx="139.89" cy="418.08" r="2.05" fill="#7bbc63" fill-opacity="0.75"/>
<circle cx="139.89" cy="439.1" r="2.05" fill="#7bbc63" fill-opacity="0.75"/>
<circle cx="160.02" cy="228.9" r="2.05" fill="#fed05e" fill-opacity="0.75"/>
<circle cx="160.02" cy="270.94" r="2.05" fill="#fed05e" fill-opacity="0.75"/>
<circle cx="160.02" cy="334" r="2.05" fill="#7bbc63" fill-opacity="0.75"/>
<circle cx="160.02" cy="439.1" r="2.05" fill="#7bbc63" fill-opacity="0.75"/>
<circle cx="200.28" cy="418.08" r="2.05" fill="#7bbc63" fill-opacity="0.75"/>
<circle cx="200.28" cy="439.1" r="2.05" fill="#7bbc63" fill-opacity="0.75"/>
<circle cx="220.41" cy="228.9" r="2.05" fill="#fed05e" fill-opacity="0.75"/>
<circle cx="220.41" cy="439.1" r="2.05" fill="#7bbc63" fill-opacity="0.75"/>
<circle cx="240.54" cy="312.98" r="2.05" fill="#cb8bbc" fill-opacity="0.75"/>
<circle cx="240.54" cy="356.92" r="2.05" fill="#7bbc63" fill-opacity="0.75"/>
<circle cx="240.54" cy="376.04" r="2.05" fill="#fed05e" fill-opacity="0.75"/>
<circle cx="240.54" cy="397.06" r="6.15" fill="#7bbc63" fill-opacity="0.75"/>
<circle cx="240.54" cy="481.14" r="2.05" fill="#fed05e" fill-opacity="0.75"/>
<circle cx="260.67" cy="418.08" r="2.05" fill="#7bbc63" fill-opacity="0.75"/>
<circle cx="260.67" cy="460.12" r="2.05" fill="#7bbc63" fill-opacity="0.75"/>
<circle cx="260.67" cy="481.14" r="4.1" fill="#7bbc63" fill-opacity="0.75"/>
<circle cx="321.06" cy="439.1" r="2.05" fill="#7bbc63" fill-opacity="0.75"/>
<circle cx="321.06" cy="481.14" r="2.05" fill="#7bbc63" fill-opacity="0.75"/>
<circle cx="341.19" cy="355.02" r="2.05" fill="#5c72b8" fill-opacity="0.75"/>
<circle cx="381.45" cy="270.94" r="4.1" fill="#fed05e" fill-opacity="0.75"/>
<circle cx="381.45" cy="312.98" r="2.05" fill="#fed05e" fill-opacity="0.75"/>
<circle cx="381.45" cy="355.02" r="2.05" fill="#cb8bbc" fill-opacity="0.75"/>
<circle cx="401.58" cy="312.98" r="2.05" fill="#fed05e" fill-opacity="0.75"/>
<circle cx="401.58" cy="334" r="2.05" fill="#fed05e" fill-opacity="0.75"/>
<circle cx="401.58" cy="355.02" r="2.05" fill="#cb8bbc" fill-opacity="0.75"/>
<circle cx="401.58" cy="481.14" r="2.05" fill="#7bbc63" fill-opacity="0.75"/>
<circle cx="482.1" cy="355.02" r="2.05" fill="#cb8bbc" fill-opacity="0.75"/>
<circle cx="482.1" cy="481.14" r="2.05" fill="#7bbc63" fill-opacity="0.75"/>
<circle cx="502.23" cy="376.04" r="2.05" fill="#fed05e" fill-opacity="0.75"/>
<circle cx="502.23" cy="418.08" r="2.05" fill="#7bbc63" fill-opacity="0.75"/>
<circle cx="522.36" cy="291.96" r="2.05" fill="#cb8bbc" fill-opacity="0.75"/>
<circle cx="562.62" cy="228.9" r="2.05" fill="#cb8bbc" fill-opacity="0.75"/>
<circle cx="562.62" cy="270.94" r="2.05" fill="#cb8bbc" fill-opacity="0.75"/>
<circle cx="562.62" cy="291.06" r="2.05" fill="#fed05e" fill-opacity="0.75"/>
<circle cx="562.62" cy="313.88" r="6.15" fill="#cb8bbc" fill-opacity="0.75"/>
<circle cx="582.75" cy="312.98" r="2.05" fill="#cb8bbc" fill-opacity="0.75"/>
<circle cx="582.75" cy="334" r="2.05" fill="#cb8bbc" fill-opacity="0.75"/>
<circle cx="582.75" cy="460.12" r="2.05" fill="#fed05e" fill-opacity="0.75"/>
<text x="9.4" y="518.5" font-size="10" fill="#1a1a1a" text-anchor="start" textLength="35.2" lengthAdjust="spacingAndGlyphs">Bed unit</text>
<text x="59.2" y="518.7" font-size="8.4" fill="#555555" text-anchor="middle">1</text>
<text x="79.8" y="518.7" font-size="8.4" fill="#555555" text-anchor="middle">2</text>
<text x="99.9" y="518.7" font-size="8.4" fill="#555555" text-anchor="middle">3</text>
<text x="120.5" y="518.7" font-size="8.4" fill="#555555" text-anchor="middle">4</text>
<text x="140.4" y="518.7" font-size="8.4" fill="#555555" text-anchor="middle">5</text>
<text x="160.4" y="518.7" font-size="8.4" fill="#555555" text-anchor="middle">6</text>
<text x="180.4" y="518.7" font-size="8.4" fill="#555555" text-anchor="middle">7</text>
<text x="201" y="518.7" font-size="8.4" fill="#555555" text-anchor="middle">8</text>
<text x="221.4" y="518.7" font-size="8.4" fill="#555555" text-anchor="middle">9</text>
<text x="241.6" y="518.7" font-size="8.4" fill="#555555" text-anchor="middle">10</text>
<text x="261" y="518.7" font-size="8.4" fill="#555555" text-anchor="middle">11</text>
<text x="281.6" y="518.7" font-size="8.4" fill="#555555" text-anchor="middle">12</text>
<text x="301.6" y="518.7" font-size="8.4" fill="#555555" text-anchor="middle">13</text>
<text x="321.6" y="518.7" font-size="8.4" fill="#555555" text-anchor="middle">14</text>
<text x="341.6" y="518.7" font-size="8.4" fill="#555555" text-anchor="middle">15</text>
<text x="362.2" y="518.7" font-size="8.4" fill="#555555" text-anchor="middle">16</text>
<text x="382.4" y="518.7" font-size="8.4" fill="#555555" text-anchor="middle">17</text>
<text x="401.9" y="518.7" font-size="8.4" fill="#555555" text-anchor="middle">18</text>
<text x="422" y="518.7" font-size="8.4" fill="#555555" text-anchor="middle">19</text>
<text x="442.6" y="518.7" font-size="8.4" fill="#555555" text-anchor="middle">20</text>
<text x="462.3" y="518.7" font-size="8.4" fill="#555555" text-anchor="middle">21</text>
<text x="482.9" y="518.7" font-size="8.4" fill="#555555" text-anchor="middle">22</text>
<text x="502.2" y="518.7" font-size="8.4" fill="#555555" text-anchor="middle">23</text>
<text x="522.9" y="518.7" font-size="8.4" fill="#555555" text-anchor="middle">24</text>
<text x="542.8" y="518.7" font-size="8.4" fill="#555555" text-anchor="middle">25</text>
<text x="562.8" y="518.7" font-size="8.4" fill="#555555" text-anchor="middle">26</text>
<text x="582.9" y="518.7" font-size="8.4" fill="#555555" text-anchor="middle">27</text>
<text x="602.5" y="518.7" font-size="8.4" fill="#555555" text-anchor="middle">28</text>
<g stroke="#454545" stroke-width="1.5">
<line x1="53.27" y1="527.3" x2="65.47" y2="527.3"/>
<line x1="73.4" y1="527.3" x2="105.73" y2="527.3"/>
<line x1="113.66" y1="527.3" x2="145.99" y2="527.3"/>
<line x1="153.92" y1="527.3" x2="186.25" y2="527.3"/>
<line x1="194.18" y1="527.3" x2="226.51" y2="527.3"/>
<line x1="234.44" y1="527.3" x2="266.77" y2="527.3"/>
<line x1="274.7" y1="527.3" x2="387.55" y2="527.3"/>
<line x1="395.48" y1="527.3" x2="427.81" y2="527.3"/>
<line x1="435.74" y1="527.3" x2="468.07" y2="527.3"/>
<line x1="476" y1="527.3" x2="508.33" y2="527.3"/>
<line x1="516.26" y1="527.3" x2="548.59" y2="527.3"/>
<line x1="556.52" y1="527.3" x2="588.85" y2="527.3"/>
<line x1="596.78" y1="527.3" x2="608.98" y2="527.3"/>
</g>
<text x="59.4" y="538.7" font-size="8.4" fill="#555555" text-anchor="middle">1</text>
<text x="89.8" y="538.7" font-size="8.4" fill="#555555" text-anchor="middle">2</text>
<text x="131" y="538.7" font-size="8.4" fill="#555555" text-anchor="middle">3</text>
<text x="172.3" y="538.7" font-size="8.4" fill="#555555" text-anchor="middle">4</text>
<text x="213" y="538.7" font-size="8.4" fill="#555555" text-anchor="middle">5</text>
<text x="253.4" y="538.7" font-size="8.4" fill="#555555" text-anchor="middle">6</text>
<text x="333.4" y="538.7" font-size="8.4" fill="#555555" text-anchor="middle">7</text>
<text x="413.8" y="538.7" font-size="8.4" fill="#555555" text-anchor="middle">8</text>
<text x="454.1" y="538.7" font-size="8.4" fill="#555555" text-anchor="middle">9</text>
<text x="492.4" y="538.7" font-size="8.4" fill="#555555" text-anchor="middle">10</text>
<text x="533" y="538.7" font-size="8.4" fill="#555555" text-anchor="middle">11</text>
<text x="573.4" y="538.7" font-size="8.4" fill="#555555" text-anchor="middle">12</text>
<text x="602.2" y="538.7" font-size="8.4" fill="#555555" text-anchor="middle">13</text>
<text x="9.3" y="538.85" font-size="10.1" fill="#1a1a1a" text-anchor="start" textLength="25.9" lengthAdjust="spacingAndGlyphs">Room</text>
<text transform="translate(0.3 208.05) scale(0.75 1)" font-size="14.2" fill="#1a1a1a" text-anchor="start">B.</text>
<text x="21.4" y="207.5" font-size="9.6" fill="#1a1a1a" text-anchor="start" textLength="65" lengthAdjust="spacingAndGlyphs">Patient isolates</text>
<text x="644.3" y="232.8" font-size="9.5" fill="#1a1a1a" text-anchor="start" textLength="40.6" lengthAdjust="spacingAndGlyphs"># isolates</text>
<circle cx="652.05" cy="247.4" r="2.05" fill="#a9a9a9"/>
<text x="671.7" y="250.4" font-size="8.2" fill="#1a1a1a" text-anchor="middle">1</text>
<circle cx="652.05" cy="265.1" r="4.1" fill="#a9a9a9"/>
<text x="671.7" y="268.1" font-size="8.2" fill="#1a1a1a" text-anchor="middle">2</text>
<circle cx="652.05" cy="283.9" r="6.15" fill="#a9a9a9"/>
<text x="671.7" y="286.9" font-size="8.2" fill="#1a1a1a" text-anchor="middle">3</text>
<circle cx="652.05" cy="306.7" r="8.2" fill="#a9a9a9"/>
<text x="671.7" y="309.7" font-size="8.2" fill="#1a1a1a" text-anchor="middle">4</text>
<circle cx="652.05" cy="332.8" r="10.25" fill="#a9a9a9"/>
<text x="671.7" y="335.8" font-size="8.2" fill="#1a1a1a" text-anchor="middle">5</text>
<circle cx="652.05" cy="364" r="12.3" fill="#a9a9a9"/>
<text x="671.7" y="367" font-size="8.2" fill="#1a1a1a" text-anchor="middle">6</text>
<text x="29.4" y="856.26" font-size="8.5" fill="#555555" text-anchor="end">1</text>
<text x="29.4" y="835.23" font-size="8.5" fill="#555555" text-anchor="end">2</text>
<text x="29.4" y="814.2" font-size="8.5" fill="#555555" text-anchor="end">3</text>
<text x="29.4" y="793.17" font-size="8.5" fill="#555555" text-anchor="end">4</text>
<text x="29.4" y="772.14" font-size="8.5" fill="#555555" text-anchor="end">5</text>
<text x="29.4" y="751.11" font-size="8.5" fill="#555555" text-anchor="end">6</text>
<text x="29.4" y="730.08" font-size="8.5" fill="#555555" text-anchor="end">7</text>
<text x="29.4" y="709.05" font-size="8.5" fill="#555555" text-anchor="end">8</text>
<text x="29.4" y="688.02" font-size="8.5" fill="#555555" text-anchor="end">9</text>
<text x="29.4" y="666.99" font-size="8.5" fill="#555555" text-anchor="end">10</text>
<text x="29.4" y="645.96" font-size="8.5" fill="#555555" text-anchor="end">11</text>
<text x="29.4" y="624.93" font-size="8.5" fill="#555555" text-anchor="end">12</text>
<text x="29.4" y="603.9" font-size="8.5" fill="#555555" text-anchor="end">13</text>
<text transform="translate(16.4 730.5) rotate(-90)" font-size="9.7" fill="#1a1a1a" text-anchor="middle">Week</text>
<g stroke="#b9b9b9" stroke-width="1.3">
<line x1="79.5" y1="601.1" x2="79.5" y2="853.51"/>
<line x1="99.63" y1="601.1" x2="99.63" y2="664.24"/>
<line x1="99.63" y1="748.31" x2="99.63" y2="769.39"/>
<line x1="99.63" y1="811.4" x2="99.63" y2="832.48"/>
<line x1="119.76" y1="601.1" x2="119.76" y2="622.18"/>
<line x1="119.76" y1="790.37" x2="119.76" y2="832.48"/>
<line x1="139.89" y1="622.13" x2="139.89" y2="685.27"/>
<line x1="139.89" y1="727.28" x2="139.89" y2="769.39"/>
<line x1="139.89" y1="790.37" x2="139.89" y2="832.48"/>
<line x1="160.02" y1="601.1" x2="160.02" y2="685.27"/>
<line x1="160.02" y1="811.4" x2="160.02" y2="832.48"/>
<line x1="180.15" y1="790.37" x2="180.15" y2="853.51"/>
<line x1="200.28" y1="601.1" x2="200.28" y2="622.18"/>
<line x1="200.28" y1="748.31" x2="200.28" y2="769.39"/>
<line x1="200.28" y1="790.37" x2="200.28" y2="811.45"/>
<line x1="200.28" y1="832.43" x2="200.28" y2="853.51"/>
<line x1="220.41" y1="728.78" x2="220.41" y2="769.39"/>
<line x1="220.41" y1="811.4" x2="220.41" y2="832.48"/>
<line x1="240.54" y1="664.19" x2="240.54" y2="685.27"/>
<line x1="240.54" y1="728.78" x2="240.54" y2="769.39"/>
<line x1="260.67" y1="622.13" x2="260.67" y2="643.21"/>
<line x1="260.67" y1="664.19" x2="260.67" y2="685.27"/>
<line x1="260.67" y1="728.78" x2="260.67" y2="769.39"/>
<line x1="260.67" y1="811.4" x2="260.67" y2="853.51"/>
<line x1="300.93" y1="748.31" x2="300.93" y2="769.39"/>
<line x1="321.06" y1="622.13" x2="321.06" y2="643.21"/>
<line x1="321.06" y1="727.28" x2="321.06" y2="748.36"/>
<line x1="341.19" y1="727.28" x2="341.19" y2="769.39"/>
<line x1="341.19" y1="811.4" x2="341.19" y2="832.48"/>
<line x1="361.32" y1="685.22" x2="361.32" y2="727.33"/>
<line x1="361.32" y1="790.37" x2="361.32" y2="811.45"/>
<line x1="361.32" y1="832.43" x2="361.32" y2="853.51"/>
<line x1="381.45" y1="643.16" x2="381.45" y2="664.24"/>
<line x1="381.45" y1="685.22" x2="381.45" y2="706.3"/>
<line x1="381.45" y1="727.28" x2="381.45" y2="748.36"/>
<line x1="401.58" y1="685.22" x2="401.58" y2="706.3"/>
<line x1="401.58" y1="727.28" x2="401.58" y2="769.39"/>
<line x1="421.71" y1="601.1" x2="421.71" y2="853.51"/>
<line x1="441.84" y1="622.13" x2="441.84" y2="664.24"/>
<line x1="441.84" y1="832.43" x2="441.84" y2="853.51"/>
<line x1="461.97" y1="601.1" x2="461.97" y2="622.18"/>
<line x1="461.97" y1="664.19" x2="461.97" y2="685.27"/>
<line x1="461.97" y1="769.34" x2="461.97" y2="790.42"/>
<line x1="461.97" y1="832.43" x2="461.97" y2="853.51"/>
<line x1="482.1" y1="601.1" x2="482.1" y2="685.27"/>
<line x1="482.1" y1="727.28" x2="482.1" y2="748.36"/>
<line x1="482.1" y1="790.37" x2="482.1" y2="853.51"/>
<line x1="502.23" y1="622.13" x2="502.23" y2="685.27"/>
<line x1="502.23" y1="769.34" x2="502.23" y2="790.42"/>
<line x1="522.36" y1="601.1" x2="522.36" y2="706.3"/>
<line x1="522.36" y1="727.28" x2="522.36" y2="748.36"/>
<line x1="522.36" y1="769.34" x2="522.36" y2="811.45"/>
<line x1="542.49" y1="601.1" x2="542.49" y2="643.21"/>
<line x1="542.49" y1="664.19" x2="542.49" y2="685.27"/>
<line x1="542.49" y1="727.28" x2="542.49" y2="790.42"/>
<line x1="542.49" y1="832.43" x2="542.49" y2="853.51"/>
<line x1="562.62" y1="601.1" x2="562.62" y2="685.27"/>
<line x1="562.62" y1="706.25" x2="562.62" y2="727.33"/>
<line x1="562.62" y1="769.34" x2="562.62" y2="790.42"/>
<line x1="562.62" y1="832.43" x2="562.62" y2="853.51"/>
<line x1="582.75" y1="601.1" x2="582.75" y2="643.21"/>
<line x1="582.75" y1="664.19" x2="582.75" y2="727.33"/>
<line x1="582.75" y1="832.43" x2="582.75" y2="853.51"/>
<line x1="602.88" y1="811.4" x2="602.88" y2="832.48"/>
</g>
<g fill="#fff" stroke="#8a8a8a" stroke-width="0.75">
<rect x="51.92" y="661.24" width="14.9" height="6" rx="1.5"/>
<rect x="51.92" y="682.27" width="14.9" height="6" rx="1.5"/>
<rect x="51.92" y="745.36" width="14.9" height="6" rx="1.5"/>
<rect x="51.92" y="766.39" width="14.9" height="6" rx="1.5"/>
<rect x="51.92" y="787.42" width="14.9" height="6" rx="1.5"/>
<rect x="51.92" y="829.48" width="14.9" height="6" rx="1.5"/>
<rect x="51.92" y="850.51" width="14.9" height="6" rx="1.5"/>
<rect x="72.05" y="850.51" width="14.9" height="6" rx="1.5"/>
<rect x="92.18" y="661.24" width="14.9" height="6" rx="1.5"/>
<rect x="92.18" y="682.27" width="14.9" height="6" rx="1.5"/>
<rect x="92.18" y="703.3" width="14.9" height="6" rx="1.5"/>
<rect x="92.18" y="766.39" width="14.9" height="6" rx="1.5"/>
<rect x="92.18" y="787.42" width="14.9" height="6" rx="1.5"/>
<rect x="92.18" y="829.48" width="14.9" height="6" rx="1.5"/>
<rect x="92.18" y="850.51" width="14.9" height="6" rx="1.5"/>
<rect x="112.31" y="619.18" width="14.9" height="6" rx="1.5"/>
<rect x="112.31" y="682.27" width="14.9" height="6" rx="1.5"/>
<rect x="112.31" y="724.33" width="14.9" height="6" rx="1.5"/>
<rect x="112.31" y="745.36" width="14.9" height="6" rx="1.5"/>
<rect x="112.31" y="766.39" width="14.9" height="6" rx="1.5"/>
<rect x="112.31" y="829.48" width="14.9" height="6" rx="1.5"/>
<rect x="112.31" y="850.51" width="14.9" height="6" rx="1.5"/>
<rect x="132.44" y="598.15" width="14.9" height="6" rx="1.5"/>
<rect x="132.44" y="682.27" width="14.9" height="6" rx="1.5"/>
<rect x="132.44" y="703.3" width="14.9" height="6" rx="1.5"/>
<rect x="132.44" y="766.39" width="14.9" height="6" rx="1.5"/>
<rect x="132.44" y="829.48" width="14.9" height="6" rx="1.5"/>
<rect x="132.44" y="850.51" width="14.9" height="6" rx="1.5"/>
<rect x="152.57" y="682.27" width="14.9" height="6" rx="1.5"/>
<rect x="152.57" y="703.3" width="14.9" height="6" rx="1.5"/>
<rect x="152.57" y="724.33" width="14.9" height="6" rx="1.5"/>
<rect x="152.57" y="745.36" width="14.9" height="6" rx="1.5"/>
<rect x="152.57" y="766.39" width="14.9" height="6" rx="1.5"/>
<rect x="152.57" y="829.48" width="14.9" height="6" rx="1.5"/>
<rect x="152.57" y="850.51" width="14.9" height="6" rx="1.5"/>
<rect x="172.7" y="598.15" width="14.9" height="6" rx="1.5"/>
<rect x="172.7" y="640.21" width="14.9" height="6" rx="1.5"/>
<rect x="172.7" y="703.3" width="14.9" height="6" rx="1.5"/>
<rect x="172.7" y="745.36" width="14.9" height="6" rx="1.5"/>
<rect x="172.7" y="850.51" width="14.9" height="6" rx="1.5"/>
<rect x="192.83" y="619.18" width="14.9" height="6" rx="1.5"/>
<rect x="192.83" y="640.21" width="14.9" height="6" rx="1.5"/>
<rect x="192.83" y="703.3" width="14.9" height="6" rx="1.5"/>
<rect x="192.83" y="724.33" width="14.9" height="6" rx="1.5"/>
<rect x="192.83" y="766.39" width="14.9" height="6" rx="1.5"/>
<rect x="192.83" y="808.45" width="14.9" height="6" rx="1.5"/>
<rect x="192.83" y="850.51" width="14.9" height="6" rx="1.5"/>
<rect x="212.96" y="598.15" width="14.9" height="6" rx="1.5"/>
<rect x="212.96" y="682.27" width="14.9" height="6" rx="1.5"/>
<rect x="212.96" y="703.3" width="14.9" height="6" rx="1.5"/>
<rect x="212.96" y="766.39" width="14.9" height="6" rx="1.5"/>
<rect x="212.96" y="829.48" width="14.9" height="6" rx="1.5"/>
<rect x="233.09" y="598.15" width="14.9" height="6" rx="1.5"/>
<rect x="233.09" y="619.18" width="14.9" height="6" rx="1.5"/>
<rect x="233.09" y="682.27" width="14.9" height="6" rx="1.5"/>
<rect x="233.09" y="703.3" width="14.9" height="6" rx="1.5"/>
<rect x="233.09" y="766.39" width="14.9" height="6" rx="1.5"/>
<rect x="233.09" y="787.42" width="14.9" height="6" rx="1.5"/>
<rect x="233.09" y="808.45" width="14.9" height="6" rx="1.5"/>
<rect x="233.09" y="850.51" width="14.9" height="6" rx="1.5"/>
<rect x="253.22" y="598.15" width="14.9" height="6" rx="1.5"/>
<rect x="253.22" y="640.21" width="14.9" height="6" rx="1.5"/>
<rect x="253.22" y="682.27" width="14.9" height="6" rx="1.5"/>
<rect x="253.22" y="703.3" width="14.9" height="6" rx="1.5"/>
<rect x="253.22" y="766.39" width="14.9" height="6" rx="1.5"/>
<rect x="253.22" y="787.42" width="14.9" height="6" rx="1.5"/>
<rect x="253.22" y="850.51" width="14.9" height="6" rx="1.5"/>
<rect x="273.35" y="619.18" width="14.9" height="6" rx="1.5"/>
<rect x="273.35" y="640.21" width="14.9" height="6" rx="1.5"/>
<rect x="273.35" y="682.27" width="14.9" height="6" rx="1.5"/>
<rect x="273.35" y="724.33" width="14.9" height="6" rx="1.5"/>
<rect x="273.35" y="766.39" width="14.9" height="6" rx="1.5"/>
<rect x="273.35" y="808.45" width="14.9" height="6" rx="1.5"/>
<rect x="293.48" y="640.21" width="14.9" height="6" rx="1.5"/>
<rect x="293.48" y="661.24" width="14.9" height="6" rx="1.5"/>
<rect x="293.48" y="682.27" width="14.9" height="6" rx="1.5"/>
<rect x="293.48" y="703.3" width="14.9" height="6" rx="1.5"/>
<rect x="293.48" y="724.33" width="14.9" height="6" rx="1.5"/>
<rect x="293.48" y="766.39" width="14.9" height="6" rx="1.5"/>
<rect x="293.48" y="787.42" width="14.9" height="6" rx="1.5"/>
<rect x="293.48" y="808.45" width="14.9" height="6" rx="1.5"/>
<rect x="293.48" y="850.51" width="14.9" height="6" rx="1.5"/>
<rect x="313.61" y="598.15" width="14.9" height="6" rx="1.5"/>
<rect x="313.61" y="640.21" width="14.9" height="6" rx="1.5"/>
<rect x="313.61" y="661.24" width="14.9" height="6" rx="1.5"/>
<rect x="313.61" y="745.36" width="14.9" height="6" rx="1.5"/>
<rect x="313.61" y="766.39" width="14.9" height="6" rx="1.5"/>
<rect x="313.61" y="787.42" width="14.9" height="6" rx="1.5"/>
<rect x="313.61" y="808.45" width="14.9" height="6" rx="1.5"/>
<rect x="313.61" y="829.48" width="14.9" height="6" rx="1.5"/>
<rect x="313.61" y="850.51" width="14.9" height="6" rx="1.5"/>
<rect x="333.74" y="598.15" width="14.9" height="6" rx="1.5"/>
<rect x="333.74" y="619.18" width="14.9" height="6" rx="1.5"/>
<rect x="333.74" y="640.21" width="14.9" height="6" rx="1.5"/>
<rect x="333.74" y="703.3" width="14.9" height="6" rx="1.5"/>
<rect x="333.74" y="766.39" width="14.9" height="6" rx="1.5"/>
<rect x="333.74" y="829.48" width="14.9" height="6" rx="1.5"/>
<rect x="333.74" y="850.51" width="14.9" height="6" rx="1.5"/>
<rect x="353.87" y="598.15" width="14.9" height="6" rx="1.5"/>
<rect x="353.87" y="619.18" width="14.9" height="6" rx="1.5"/>
<rect x="353.87" y="661.24" width="14.9" height="6" rx="1.5"/>
<rect x="353.87" y="724.33" width="14.9" height="6" rx="1.5"/>
<rect x="353.87" y="808.45" width="14.9" height="6" rx="1.5"/>
<rect x="353.87" y="850.51" width="14.9" height="6" rx="1.5"/>
<rect x="374" y="661.24" width="14.9" height="6" rx="1.5"/>
<rect x="374" y="703.3" width="14.9" height="6" rx="1.5"/>
<rect x="374" y="745.36" width="14.9" height="6" rx="1.5"/>
<rect x="374" y="766.39" width="14.9" height="6" rx="1.5"/>
<rect x="374" y="787.42" width="14.9" height="6" rx="1.5"/>
<rect x="374" y="808.45" width="14.9" height="6" rx="1.5"/>
<rect x="374" y="829.48" width="14.9" height="6" rx="1.5"/>
<rect x="374" y="850.51" width="14.9" height="6" rx="1.5"/>
<rect x="394.13" y="598.15" width="14.9" height="6" rx="1.5"/>
<rect x="394.13" y="619.18" width="14.9" height="6" rx="1.5"/>
<rect x="394.13" y="640.21" width="14.9" height="6" rx="1.5"/>
<rect x="394.13" y="661.24" width="14.9" height="6" rx="1.5"/>
<rect x="394.13" y="703.3" width="14.9" height="6" rx="1.5"/>
<rect x="394.13" y="766.39" width="14.9" height="6" rx="1.5"/>
<rect x="394.13" y="808.45" width="14.9" height="6" rx="1.5"/>
<rect x="394.13" y="829.48" width="14.9" height="6" rx="1.5"/>
<rect x="394.13" y="850.51" width="14.9" height="6" rx="1.5"/>
<rect x="414.26" y="850.51" width="14.9" height="6" rx="1.5"/>
<rect x="434.39" y="661.24" width="14.9" height="6" rx="1.5"/>
<rect x="434.39" y="682.27" width="14.9" height="6" rx="1.5"/>
<rect x="434.39" y="766.39" width="14.9" height="6" rx="1.5"/>
<rect x="434.39" y="787.42" width="14.9" height="6" rx="1.5"/>
<rect x="434.39" y="808.45" width="14.9" height="6" rx="1.5"/>
<rect x="434.39" y="850.51" width="14.9" height="6" rx="1.5"/>
<rect x="454.52" y="619.18" width="14.9" height="6" rx="1.5"/>
<rect x="454.52" y="640.21" width="14.9" height="6" rx="1.5"/>
<rect x="454.52" y="682.27" width="14.9" height="6" rx="1.5"/>
<rect x="454.52" y="724.33" width="14.9" height="6" rx="1.5"/>
<rect x="454.52" y="745.36" width="14.9" height="6" rx="1.5"/>
<rect x="454.52" y="787.42" width="14.9" height="6" rx="1.5"/>
<rect x="454.52" y="850.51" width="14.9" height="6" rx="1.5"/>
<rect x="474.65" y="682.27" width="14.9" height="6" rx="1.5"/>
<rect x="474.65" y="703.3" width="14.9" height="6" rx="1.5"/>
<rect x="474.65" y="745.36" width="14.9" height="6" rx="1.5"/>
<rect x="474.65" y="850.51" width="14.9" height="6" rx="1.5"/>
<rect x="494.78" y="682.27" width="14.9" height="6" rx="1.5"/>
<rect x="494.78" y="703.3" width="14.9" height="6" rx="1.5"/>
<rect x="494.78" y="724.33" width="14.9" height="6" rx="1.5"/>
<rect x="494.78" y="745.36" width="14.9" height="6" rx="1.5"/>
<rect x="494.78" y="787.42" width="14.9" height="6" rx="1.5"/>
<rect x="494.78" y="808.45" width="14.9" height="6" rx="1.5"/>
<rect x="494.78" y="829.48" width="14.9" height="6" rx="1.5"/>
<rect x="494.78" y="850.51" width="14.9" height="6" rx="1.5"/>
<rect x="514.91" y="703.3" width="14.9" height="6" rx="1.5"/>
<rect x="514.91" y="745.36" width="14.9" height="6" rx="1.5"/>
<rect x="514.91" y="808.45" width="14.9" height="6" rx="1.5"/>
<rect x="514.91" y="829.48" width="14.9" height="6" rx="1.5"/>
<rect x="514.91" y="850.51" width="14.9" height="6" rx="1.5"/>
<rect x="535.04" y="640.21" width="14.9" height="6" rx="1.5"/>
<rect x="535.04" y="682.27" width="14.9" height="6" rx="1.5"/>
<rect x="535.04" y="703.3" width="14.9" height="6" rx="1.5"/>
<rect x="535.04" y="787.42" width="14.9" height="6" rx="1.5"/>
<rect x="535.04" y="808.45" width="14.9" height="6" rx="1.5"/>
<rect x="535.04" y="850.51" width="14.9" height="6" rx="1.5"/>
<rect x="555.17" y="682.27" width="14.9" height="6" rx="1.5"/>
<rect x="555.17" y="724.33" width="14.9" height="6" rx="1.5"/>
<rect x="555.17" y="787.42" width="14.9" height="6" rx="1.5"/>
<rect x="555.17" y="808.45" width="14.9" height="6" rx="1.5"/>
<rect x="555.17" y="850.51" width="14.9" height="6" rx="1.5"/>
<rect x="575.3" y="640.21" width="14.9" height="6" rx="1.5"/>
<rect x="575.3" y="724.33" width="14.9" height="6" rx="1.5"/>
<rect x="575.3" y="766.39" width="14.9" height="6" rx="1.5"/>
<rect x="575.3" y="787.42" width="14.9" height="6" rx="1.5"/>
<rect x="575.3" y="808.45" width="14.9" height="6" rx="1.5"/>
<rect x="575.3" y="850.51" width="14.9" height="6" rx="1.5"/>
<rect x="595.43" y="640.21" width="14.9" height="6" rx="1.5"/>
<rect x="595.43" y="661.24" width="14.9" height="6" rx="1.5"/>
<rect x="595.43" y="682.27" width="14.9" height="6" rx="1.5"/>
<rect x="595.43" y="703.3" width="14.9" height="6" rx="1.5"/>
<rect x="595.43" y="745.36" width="14.9" height="6" rx="1.5"/>
<rect x="595.43" y="766.39" width="14.9" height="6" rx="1.5"/>
<rect x="595.43" y="787.42" width="14.9" height="6" rx="1.5"/>
<rect x="595.43" y="829.48" width="14.9" height="6" rx="1.5"/>
<rect x="595.43" y="850.51" width="14.9" height="6" rx="1.5"/>
</g>
<g font-size="5.7" fill="#999" text-anchor="middle">
<text x="59.37" y="666.19" textLength="12.4" lengthAdjust="spacingAndGlyphs">P264</text>
<text x="59.37" y="687.22" textLength="12.4" lengthAdjust="spacingAndGlyphs">P260</text>
<text x="59.37" y="750.31" textLength="12.4" lengthAdjust="spacingAndGlyphs">P208</text>
<text x="59.37" y="771.34" textLength="12.4" lengthAdjust="spacingAndGlyphs">P197</text>
<text x="59.37" y="792.37" textLength="12.4" lengthAdjust="spacingAndGlyphs">P190</text>
<text x="59.37" y="834.43" textLength="12.4" lengthAdjust="spacingAndGlyphs">P167</text>
<text x="59.37" y="855.46" textLength="12.4" lengthAdjust="spacingAndGlyphs">P141</text>
<text x="79.5" y="855.46" textLength="12.4" lengthAdjust="spacingAndGlyphs">P142</text>
<text x="99.63" y="666.19" textLength="12.4" lengthAdjust="spacingAndGlyphs">P228</text>
<text x="99.63" y="687.22" textLength="12.4" lengthAdjust="spacingAndGlyphs">P237</text>
<text x="99.63" y="708.25" textLength="12.4" lengthAdjust="spacingAndGlyphs">P218</text>
<text x="99.63" y="771.34" textLength="12.4" lengthAdjust="spacingAndGlyphs">P168</text>
<text x="99.63" y="792.37" textLength="12.4" lengthAdjust="spacingAndGlyphs">P185</text>
<text x="99.63" y="834.43" textLength="12.4" lengthAdjust="spacingAndGlyphs">P148</text>
<text x="99.63" y="855.46" textLength="12.4" lengthAdjust="spacingAndGlyphs">P143</text>
<text x="119.76" y="624.13" textLength="12.4" lengthAdjust="spacingAndGlyphs">P224</text>
<text x="119.76" y="687.22" textLength="12.4" lengthAdjust="spacingAndGlyphs">P234</text>
<text x="119.76" y="729.28" textLength="12.4" lengthAdjust="spacingAndGlyphs">P175</text>
<text x="119.76" y="750.31" textLength="12.4" lengthAdjust="spacingAndGlyphs">P209</text>
<text x="119.76" y="771.34" textLength="12.4" lengthAdjust="spacingAndGlyphs">P158</text>
<text x="119.76" y="834.43" textLength="12.4" lengthAdjust="spacingAndGlyphs">P166</text>
<text x="119.76" y="855.46" textLength="12.4" lengthAdjust="spacingAndGlyphs">P144</text>
<text x="139.89" y="603.1" textLength="12.4" lengthAdjust="spacingAndGlyphs">P261</text>
<text x="139.89" y="687.22" textLength="12.4" lengthAdjust="spacingAndGlyphs">P238</text>
<text x="139.89" y="708.25" textLength="12.4" lengthAdjust="spacingAndGlyphs">P225</text>
<text x="139.89" y="771.34" textLength="12.4" lengthAdjust="spacingAndGlyphs">P178</text>
<text x="139.89" y="834.43" textLength="12.4" lengthAdjust="spacingAndGlyphs">P160</text>
<text x="139.89" y="855.46" textLength="12.4" lengthAdjust="spacingAndGlyphs">P145</text>
<text x="160.02" y="687.22" textLength="12.4" lengthAdjust="spacingAndGlyphs">P229</text>
<text x="160.02" y="708.25" textLength="12.4" lengthAdjust="spacingAndGlyphs">P220</text>
<text x="160.02" y="729.28" textLength="12.4" lengthAdjust="spacingAndGlyphs">P209</text>
<text x="160.02" y="750.31" textLength="12.4" lengthAdjust="spacingAndGlyphs">P210</text>
<text x="160.02" y="771.34" textLength="12.4" lengthAdjust="spacingAndGlyphs">P198</text>
<text x="160.02" y="834.43" textLength="12.4" lengthAdjust="spacingAndGlyphs">P151</text>
<text x="160.02" y="855.46" textLength="12.4" lengthAdjust="spacingAndGlyphs">P146</text>
<text x="180.15" y="603.1" textLength="12.4" lengthAdjust="spacingAndGlyphs">P146</text>
<text x="180.15" y="645.16" textLength="12.4" lengthAdjust="spacingAndGlyphs">P248</text>
<text x="180.15" y="708.25" textLength="12.4" lengthAdjust="spacingAndGlyphs">P216</text>
<text x="180.15" y="750.31" textLength="12.4" lengthAdjust="spacingAndGlyphs">P211</text>
<text x="180.15" y="855.46" textLength="12.4" lengthAdjust="spacingAndGlyphs">P147</text>
<text x="200.28" y="624.13" textLength="12.4" lengthAdjust="spacingAndGlyphs">P266</text>
<text x="200.28" y="645.16" textLength="12.4" lengthAdjust="spacingAndGlyphs">P230</text>
<text x="200.28" y="708.25" textLength="12.4" lengthAdjust="spacingAndGlyphs">P190</text>
<text x="200.28" y="729.28" textLength="12.4" lengthAdjust="spacingAndGlyphs">P218</text>
<text x="200.28" y="771.34" textLength="12.4" lengthAdjust="spacingAndGlyphs">P199</text>
<text x="200.28" y="813.4" textLength="12.4" lengthAdjust="spacingAndGlyphs">P178</text>
<text x="200.28" y="855.46" textLength="12.4" lengthAdjust="spacingAndGlyphs">P148</text>
<text x="220.41" y="603.1" textLength="12.4" lengthAdjust="spacingAndGlyphs">P267</text>
<text x="220.41" y="687.22" textLength="12.4" lengthAdjust="spacingAndGlyphs">P226</text>
<text x="220.41" y="708.25" textLength="12.4" lengthAdjust="spacingAndGlyphs">P177</text>
<text x="220.41" y="771.34" textLength="12.4" lengthAdjust="spacingAndGlyphs">P200</text>
<text x="220.41" y="834.43" textLength="12.4" lengthAdjust="spacingAndGlyphs">P170</text>
<text x="240.54" y="603.1" textLength="12.4" lengthAdjust="spacingAndGlyphs">P268</text>
<text x="240.54" y="624.13" textLength="12.4" lengthAdjust="spacingAndGlyphs">P260</text>
<text x="240.54" y="687.22" textLength="12.4" lengthAdjust="spacingAndGlyphs">P235</text>
<text x="240.54" y="708.25" textLength="12.4" lengthAdjust="spacingAndGlyphs">P206</text>
<text x="240.54" y="771.34" textLength="12.4" lengthAdjust="spacingAndGlyphs">P189</text>
<text x="240.54" y="792.37" textLength="12.4" lengthAdjust="spacingAndGlyphs">P191</text>
<text x="240.54" y="813.4" textLength="12.4" lengthAdjust="spacingAndGlyphs">P179</text>
<text x="240.54" y="855.46" textLength="12.4" lengthAdjust="spacingAndGlyphs">P149</text>
<text x="260.67" y="603.1" textLength="12.4" lengthAdjust="spacingAndGlyphs">P257</text>
<text x="260.67" y="645.16" textLength="12.4" lengthAdjust="spacingAndGlyphs">P251</text>
<text x="260.67" y="687.22" textLength="12.4" lengthAdjust="spacingAndGlyphs">P240</text>
<text x="260.67" y="708.25" textLength="12.4" lengthAdjust="spacingAndGlyphs">P227</text>
<text x="260.67" y="771.34" textLength="12.4" lengthAdjust="spacingAndGlyphs">P177</text>
<text x="260.67" y="792.37" textLength="12.4" lengthAdjust="spacingAndGlyphs">P182</text>
<text x="260.67" y="855.46" textLength="12.4" lengthAdjust="spacingAndGlyphs">P150</text>
<text x="280.8" y="624.13" textLength="12.4" lengthAdjust="spacingAndGlyphs">P261</text>
<text x="280.8" y="645.16" textLength="12.4" lengthAdjust="spacingAndGlyphs">P252</text>
<text x="280.8" y="687.22" textLength="12.4" lengthAdjust="spacingAndGlyphs">P241</text>
<text x="280.8" y="729.28" textLength="12.4" lengthAdjust="spacingAndGlyphs">P236</text>
<text x="280.8" y="771.34" textLength="12.4" lengthAdjust="spacingAndGlyphs">P196</text>
<text x="280.8" y="813.4" textLength="12.4" lengthAdjust="spacingAndGlyphs">P180</text>
<text x="300.93" y="645.16" textLength="12.4" lengthAdjust="spacingAndGlyphs">P253</text>
<text x="300.93" y="666.19" textLength="12.4" lengthAdjust="spacingAndGlyphs">P245</text>
<text x="300.93" y="687.22" textLength="12.4" lengthAdjust="spacingAndGlyphs">P177</text>
<text x="300.93" y="708.25" textLength="12.4" lengthAdjust="spacingAndGlyphs">P228</text>
<text x="300.93" y="729.28" textLength="12.4" lengthAdjust="spacingAndGlyphs">P219</text>
<text x="300.93" y="771.34" textLength="12.4" lengthAdjust="spacingAndGlyphs">P201</text>
<text x="300.93" y="792.37" textLength="12.4" lengthAdjust="spacingAndGlyphs">P189</text>
<text x="300.93" y="813.4" textLength="12.4" lengthAdjust="spacingAndGlyphs">P143</text>
<text x="300.93" y="855.46" textLength="12.4" lengthAdjust="spacingAndGlyphs">P151</text>
<text x="321.06" y="603.1" textLength="12.4" lengthAdjust="spacingAndGlyphs">P269</text>
<text x="321.06" y="645.16" textLength="12.4" lengthAdjust="spacingAndGlyphs">P254</text>
<text x="321.06" y="666.19" textLength="12.4" lengthAdjust="spacingAndGlyphs">P246</text>
<text x="321.06" y="750.31" textLength="12.4" lengthAdjust="spacingAndGlyphs">P212</text>
<text x="321.06" y="771.34" textLength="12.4" lengthAdjust="spacingAndGlyphs">P202</text>
<text x="321.06" y="792.37" textLength="12.4" lengthAdjust="spacingAndGlyphs">P194</text>
<text x="321.06" y="813.4" textLength="12.4" lengthAdjust="spacingAndGlyphs">P181</text>
<text x="321.06" y="834.43" textLength="12.4" lengthAdjust="spacingAndGlyphs">P171</text>
<text x="321.06" y="855.46" textLength="12.4" lengthAdjust="spacingAndGlyphs">P152</text>
<text x="341.19" y="603.1" textLength="12.4" lengthAdjust="spacingAndGlyphs">P270</text>
<text x="341.19" y="624.13" textLength="12.4" lengthAdjust="spacingAndGlyphs">P262</text>
<text x="341.19" y="645.16" textLength="12.4" lengthAdjust="spacingAndGlyphs">P255</text>
<text x="341.19" y="708.25" textLength="12.4" lengthAdjust="spacingAndGlyphs">P229</text>
<text x="341.19" y="771.34" textLength="12.4" lengthAdjust="spacingAndGlyphs">P203</text>
<text x="341.19" y="834.43" textLength="12.4" lengthAdjust="spacingAndGlyphs">P172</text>
<text x="341.19" y="855.46" textLength="12.4" lengthAdjust="spacingAndGlyphs">P153</text>
<text x="361.32" y="603.1" textLength="12.4" lengthAdjust="spacingAndGlyphs">P256</text>
<text x="361.32" y="624.13" textLength="12.4" lengthAdjust="spacingAndGlyphs">P263</text>
<text x="361.32" y="666.19" textLength="12.4" lengthAdjust="spacingAndGlyphs">P177</text>
<text x="361.32" y="729.28" textLength="12.4" lengthAdjust="spacingAndGlyphs">P220</text>
<text x="361.32" y="813.4" textLength="12.4" lengthAdjust="spacingAndGlyphs">P182</text>
<text x="361.32" y="855.46" textLength="12.4" lengthAdjust="spacingAndGlyphs">P154</text>
<text x="381.45" y="666.19" textLength="12.4" lengthAdjust="spacingAndGlyphs">P247</text>
<text x="381.45" y="708.25" textLength="12.4" lengthAdjust="spacingAndGlyphs">P230</text>
<text x="381.45" y="750.31" textLength="12.4" lengthAdjust="spacingAndGlyphs">P213</text>
<text x="381.45" y="771.34" textLength="12.4" lengthAdjust="spacingAndGlyphs">P204</text>
<text x="381.45" y="792.37" textLength="12.4" lengthAdjust="spacingAndGlyphs">P186</text>
<text x="381.45" y="813.4" textLength="12.4" lengthAdjust="spacingAndGlyphs">P183</text>
<text x="381.45" y="834.43" textLength="12.4" lengthAdjust="spacingAndGlyphs">P173</text>
<text x="381.45" y="855.46" textLength="12.4" lengthAdjust="spacingAndGlyphs">P155</text>
<text x="401.58" y="603.1" textLength="12.4" lengthAdjust="spacingAndGlyphs">P271</text>
<text x="401.58" y="624.13" textLength="12.4" lengthAdjust="spacingAndGlyphs">P264</text>
<text x="401.58" y="645.16" textLength="12.4" lengthAdjust="spacingAndGlyphs">P256</text>
<text x="401.58" y="666.19" textLength="12.4" lengthAdjust="spacingAndGlyphs">P244</text>
<text x="401.58" y="708.25" textLength="12.4" lengthAdjust="spacingAndGlyphs">P221</text>
<text x="401.58" y="771.34" textLength="12.4" lengthAdjust="spacingAndGlyphs">P190</text>
<text x="401.58" y="813.4" textLength="12.4" lengthAdjust="spacingAndGlyphs">P184</text>
<text x="401.58" y="834.43" textLength="12.4" lengthAdjust="spacingAndGlyphs">P174</text>
<text x="401.58" y="855.46" textLength="12.4" lengthAdjust="spacingAndGlyphs">P156</text>
<text x="421.71" y="855.46" textLength="12.4" lengthAdjust="spacingAndGlyphs">P157</text>
<text x="441.84" y="666.19" textLength="12.4" lengthAdjust="spacingAndGlyphs">P243</text>
<text x="441.84" y="687.22" textLength="12.4" lengthAdjust="spacingAndGlyphs">P242</text>
<text x="441.84" y="771.34" textLength="12.4" lengthAdjust="spacingAndGlyphs">P205</text>
<text x="441.84" y="792.37" textLength="12.4" lengthAdjust="spacingAndGlyphs">P168</text>
<text x="441.84" y="813.4" textLength="12.4" lengthAdjust="spacingAndGlyphs">P165</text>
<text x="441.84" y="855.46" textLength="12.4" lengthAdjust="spacingAndGlyphs">P158</text>
<text x="461.97" y="624.13" textLength="12.4" lengthAdjust="spacingAndGlyphs">P265</text>
<text x="461.97" y="645.16" textLength="12.4" lengthAdjust="spacingAndGlyphs">P257</text>
<text x="461.97" y="687.22" textLength="12.4" lengthAdjust="spacingAndGlyphs">P225</text>
<text x="461.97" y="729.28" textLength="12.4" lengthAdjust="spacingAndGlyphs">P221</text>
<text x="461.97" y="750.31" textLength="12.4" lengthAdjust="spacingAndGlyphs">P214</text>
<text x="461.97" y="792.37" textLength="12.4" lengthAdjust="spacingAndGlyphs">P149</text>
<text x="461.97" y="855.46" textLength="12.4" lengthAdjust="spacingAndGlyphs">P159</text>
<text x="482.1" y="687.22" textLength="12.4" lengthAdjust="spacingAndGlyphs">P226</text>
<text x="482.1" y="708.25" textLength="12.4" lengthAdjust="spacingAndGlyphs">P201</text>
<text x="482.1" y="750.31" textLength="12.4" lengthAdjust="spacingAndGlyphs">P215</text>
<text x="482.1" y="855.46" textLength="12.4" lengthAdjust="spacingAndGlyphs">P160</text>
<text x="502.23" y="687.22" textLength="12.4" lengthAdjust="spacingAndGlyphs">P188</text>
<text x="502.23" y="708.25" textLength="12.4" lengthAdjust="spacingAndGlyphs">P232</text>
<text x="502.23" y="729.28" textLength="12.4" lengthAdjust="spacingAndGlyphs">P222</text>
<text x="502.23" y="750.31" textLength="12.4" lengthAdjust="spacingAndGlyphs">P187</text>
<text x="502.23" y="792.37" textLength="12.4" lengthAdjust="spacingAndGlyphs">P180</text>
<text x="502.23" y="813.4" textLength="12.4" lengthAdjust="spacingAndGlyphs">P186</text>
<text x="502.23" y="834.43" textLength="12.4" lengthAdjust="spacingAndGlyphs">P175</text>
<text x="502.23" y="855.46" textLength="12.4" lengthAdjust="spacingAndGlyphs">P161</text>
<text x="522.36" y="708.25" textLength="12.4" lengthAdjust="spacingAndGlyphs">P202</text>
<text x="522.36" y="750.31" textLength="12.4" lengthAdjust="spacingAndGlyphs">P216</text>
<text x="522.36" y="813.4" textLength="12.4" lengthAdjust="spacingAndGlyphs">P167</text>
<text x="522.36" y="834.43" textLength="12.4" lengthAdjust="spacingAndGlyphs">P176</text>
<text x="522.36" y="855.46" textLength="12.4" lengthAdjust="spacingAndGlyphs">P162</text>
<text x="542.49" y="645.16" textLength="12.4" lengthAdjust="spacingAndGlyphs">P177</text>
<text x="542.49" y="687.22" textLength="12.4" lengthAdjust="spacingAndGlyphs">P170</text>
<text x="542.49" y="708.25" textLength="12.4" lengthAdjust="spacingAndGlyphs">P234</text>
<text x="542.49" y="792.37" textLength="12.4" lengthAdjust="spacingAndGlyphs">P168</text>
<text x="542.49" y="813.4" textLength="12.4" lengthAdjust="spacingAndGlyphs">P168</text>
<text x="542.49" y="855.46" textLength="12.4" lengthAdjust="spacingAndGlyphs">P163</text>
<text x="562.62" y="687.22" textLength="12.4" lengthAdjust="spacingAndGlyphs">P230</text>
<text x="562.62" y="729.28" textLength="12.4" lengthAdjust="spacingAndGlyphs">P223</text>
<text x="562.62" y="792.37" textLength="12.4" lengthAdjust="spacingAndGlyphs">P172</text>
<text x="562.62" y="813.4" textLength="12.4" lengthAdjust="spacingAndGlyphs">P163</text>
<text x="562.62" y="855.46" textLength="12.4" lengthAdjust="spacingAndGlyphs">P164</text>
<text x="582.75" y="645.16" textLength="12.4" lengthAdjust="spacingAndGlyphs">P235</text>
<text x="582.75" y="729.28" textLength="12.4" lengthAdjust="spacingAndGlyphs">P224</text>
<text x="582.75" y="771.34" textLength="12.4" lengthAdjust="spacingAndGlyphs">P206</text>
<text x="582.75" y="792.37" textLength="12.4" lengthAdjust="spacingAndGlyphs">P177</text>
<text x="582.75" y="813.4" textLength="12.4" lengthAdjust="spacingAndGlyphs">P169</text>
<text x="582.75" y="855.46" textLength="12.4" lengthAdjust="spacingAndGlyphs">P165</text>
<text x="602.88" y="645.16" textLength="12.4" lengthAdjust="spacingAndGlyphs">P258</text>
<text x="602.88" y="666.19" textLength="12.4" lengthAdjust="spacingAndGlyphs">P248</text>
<text x="602.88" y="687.22" textLength="12.4" lengthAdjust="spacingAndGlyphs">P243</text>
<text x="602.88" y="708.25" textLength="12.4" lengthAdjust="spacingAndGlyphs">P238</text>
<text x="602.88" y="750.31" textLength="12.4" lengthAdjust="spacingAndGlyphs">P217</text>
<text x="602.88" y="771.34" textLength="12.4" lengthAdjust="spacingAndGlyphs">P207</text>
<text x="602.88" y="792.37" textLength="12.4" lengthAdjust="spacingAndGlyphs">P166</text>
<text x="602.88" y="834.43" textLength="12.4" lengthAdjust="spacingAndGlyphs">P177</text>
<text x="602.88" y="855.46" textLength="12.4" lengthAdjust="spacingAndGlyphs">P166</text>
</g>
<circle cx="79.5" cy="601.1" r="4.1" fill="#fed05e" fill-opacity="0.75"/>
<circle cx="79.5" cy="643.16" r="4.1" fill="#fed05e" fill-opacity="0.75"/>
<circle cx="79.5" cy="706.25" r="4.1" fill="#fed05e" fill-opacity="0.75"/>
<circle cx="79.5" cy="727.28" r="12.3" fill="#fed05e" fill-opacity="0.75"/>
<circle cx="79.5" cy="748.31" r="8.2" fill="#fed05e" fill-opacity="0.75"/>
<circle cx="79.5" cy="790.37" r="2.05" fill="#7bbc63" fill-opacity="0.75"/>
<circle cx="79.5" cy="853.46" r="4.1" fill="#7bbc63" fill-opacity="0.75"/>
<circle cx="99.63" cy="664.19" r="2.05" fill="#fed05e" fill-opacity="0.75"/>
<circle cx="99.63" cy="748.31" r="4.1" fill="#fed05e" fill-opacity="0.75"/>
<circle cx="99.63" cy="769.34" r="2.05" fill="#5c72b8" fill-opacity="0.75"/>
<circle cx="99.63" cy="811.4" r="2.05" fill="#7bbc63" fill-opacity="0.75"/>
<circle cx="119.76" cy="769.34" r="2.05" fill="#fed05e" fill-opacity="0.75"/>
<circle cx="119.76" cy="790.37" r="4.1" fill="#7bbc63" fill-opacity="0.75"/>
<circle cx="119.76" cy="853.46" r="2.05" fill="#7bbc63" fill-opacity="0.75"/>
<circle cx="139.89" cy="727.28" r="2.05" fill="#fed05e" fill-opacity="0.75"/>
<circle cx="139.89" cy="769.34" r="2.05" fill="#7bbc63" fill-opacity="0.75"/>
<path d="M160.02 706.25 L160.02 702.15 A4.1 4.1 0 0 0 160.02 710.35 Z" fill="#fed05e" fill-opacity="0.75"/>
<path d="M160.02 706.25 L160.02 710.35 A4.1 4.1 0 0 0 160.02 702.15 Z" fill="#7bbc63" fill-opacity="0.75"/>
<circle cx="160.02" cy="790.37" r="2.05" fill="#7bbc63" fill-opacity="0.75"/>
<circle cx="160.02" cy="832.43" r="2.05" fill="#7bbc63" fill-opacity="0.75"/>
<circle cx="160.02" cy="853.46" r="4.1" fill="#7bbc63" fill-opacity="0.75"/>
<circle cx="180.15" cy="706.25" r="2.05" fill="#5c72b8" fill-opacity="0.75"/>
<circle cx="180.15" cy="769.34" r="4.1" fill="#7bbc63" fill-opacity="0.75"/>
<circle cx="180.15" cy="832.43" r="4.1" fill="#7bbc63" fill-opacity="0.75"/>
<circle cx="180.15" cy="853.46" r="4.1" fill="#7bbc63" fill-opacity="0.75"/>
<circle cx="200.28" cy="706.25" r="2.05" fill="#cb8bbc" fill-opacity="0.75"/>
<circle cx="200.28" cy="769.34" r="2.05" fill="#7bbc63" fill-opacity="0.75"/>
<circle cx="200.28" cy="790.37" r="4.1" fill="#7bbc63" fill-opacity="0.75"/>
<circle cx="200.28" cy="832.43" r="2.05" fill="#7bbc63" fill-opacity="0.75"/>
<circle cx="200.28" cy="853.46" r="2.05" fill="#7bbc63" fill-opacity="0.75"/>
<circle cx="220.41" cy="664.19" r="2.05" fill="#cb8bbc" fill-opacity="0.75"/>
<circle cx="240.54" cy="685.22" r="4.1" fill="#cb8bbc" fill-opacity="0.75"/>
<circle cx="240.54" cy="706.25" r="2.05" fill="#fed05e" fill-opacity="0.75"/>
<circle cx="240.54" cy="728.58" r="8.2" fill="#7bbc63" fill-opacity="0.75"/>
<circle cx="240.54" cy="748.31" r="2.05" fill="#7bbc63" fill-opacity="0.75"/>
<circle cx="240.54" cy="769.34" r="4.1" fill="#7bbc63" fill-opacity="0.75"/>
<circle cx="240.54" cy="811.4" r="2.05" fill="#7bbc63" fill-opacity="0.75"/>
<circle cx="240.54" cy="853.46" r="2.05" fill="#7bbc63" fill-opacity="0.75"/>
<circle cx="260.67" cy="790.37" r="2.05" fill="#7bbc63" fill-opacity="0.75"/>
<circle cx="260.67" cy="853.46" r="4.1" fill="#7bbc63" fill-opacity="0.75"/>
<circle cx="280.8" cy="685.22" r="2.05" fill="#cb8bbc" fill-opacity="0.75"/>
<circle cx="280.8" cy="748.31" r="2.05" fill="#7bbc63" fill-opacity="0.75"/>
<path d="M280.8 769.34 L280.8 761.14 A8.2 8.2 0 0 0 272.6 769.34 Z" fill="#cb8bbc" fill-opacity="0.75"/>
<path d="M280.8 769.34 L272.6 769.34 A8.2 8.2 0 1 0 280.8 761.14 Z" fill="#7bbc63" fill-opacity="0.75"/>
<circle cx="280.8" cy="790.37" r="2.05" fill="#7bbc63" fill-opacity="0.75"/>
<circle cx="280.8" cy="811.4" r="4.1" fill="#7bbc63" fill-opacity="0.75"/>
<circle cx="300.93" cy="748.31" r="2.05" fill="#5c72b8" fill-opacity="0.75"/>
<circle cx="300.93" cy="769.34" r="2.05" fill="#fed05e" fill-opacity="0.75"/>
<circle cx="300.93" cy="811.4" r="6.15" fill="#7bbc63" fill-opacity="0.75"/>
<circle cx="321.06" cy="727.28" r="2.05" fill="#5c72b8" fill-opacity="0.75"/>
<circle cx="321.06" cy="748.31" r="2.05" fill="#5c72b8" fill-opacity="0.75"/>
<circle cx="321.06" cy="853.46" r="6.15" fill="#7bbc63" fill-opacity="0.75"/>
<circle cx="341.19" cy="727.28" r="2.05" fill="#5c72b8" fill-opacity="0.75"/>
<circle cx="341.19" cy="769.34" r="4.1" fill="#7bbc63" fill-opacity="0.75"/>
<circle cx="341.19" cy="790.37" r="2.05" fill="#fed05e" fill-opacity="0.75"/>
<circle cx="341.19" cy="853.46" r="4.1" fill="#fed05e" fill-opacity="0.75"/>
<circle cx="361.32" cy="748.31" r="2.05" fill="#cb8bbc" fill-opacity="0.75"/>
<circle cx="361.32" cy="790.37" r="2.05" fill="#7bbc63" fill-opacity="0.75"/>
<circle cx="381.45" cy="748.31" r="2.05" fill="#cb8bbc" fill-opacity="0.75"/>
<circle cx="381.45" cy="790.37" r="2.05" fill="#7bbc63" fill-opacity="0.75"/>
<circle cx="401.58" cy="664.19" r="2.05" fill="#5c72b8" fill-opacity="0.75"/>
<circle cx="401.58" cy="727.28" r="8.2" fill="#cb8bbc" fill-opacity="0.75"/>
<circle cx="401.58" cy="748.31" r="4.1" fill="#cb8bbc" fill-opacity="0.75"/>
<circle cx="401.58" cy="769.34" r="2.05" fill="#cb8bbc" fill-opacity="0.75"/>
<circle cx="441.84" cy="748.31" r="2.05" fill="#cb8bbc" fill-opacity="0.75"/>
<circle cx="441.84" cy="832.43" r="2.05" fill="#5c72b8" fill-opacity="0.75"/>
<path d="M441.84 853.46 L441.84 847.31 A6.15 6.15 0 0 0 436.51 856.54 Z" fill="#fed05e" fill-opacity="0.75"/>
<path d="M441.84 853.46 L436.51 856.54 A6.15 6.15 0 1 0 441.84 847.31 Z" fill="#7bbc63" fill-opacity="0.75"/>
<circle cx="461.97" cy="769.34" r="4.1" fill="#7bbc63" fill-opacity="0.75"/>
<circle cx="461.97" cy="811.4" r="2.05" fill="#7bbc63" fill-opacity="0.75"/>
<circle cx="461.97" cy="832.43" r="4.1" fill="#7bbc63" fill-opacity="0.75"/>
<path d="M461.97 853.46 L461.97 849.36 A4.1 4.1 0 0 0 461.97 857.56 Z" fill="#fed05e" fill-opacity="0.75"/>
<path d="M461.97 853.46 L461.97 857.56 A4.1 4.1 0 0 0 461.97 849.36 Z" fill="#7bbc63" fill-opacity="0.75"/>
<circle cx="482.1" cy="769.34" r="2.05" fill="#7bbc63" fill-opacity="0.75"/>
<circle cx="482.1" cy="790.37" r="2.05" fill="#fed05e" fill-opacity="0.75"/>
<circle cx="482.1" cy="832.43" r="2.05" fill="#fed05e" fill-opacity="0.75"/>
<circle cx="482.1" cy="853.46" r="2.05" fill="#fed05e" fill-opacity="0.75"/>
<circle cx="502.23" cy="853.46" r="6.15" fill="#fed05e" fill-opacity="0.75"/>
<circle cx="522.36" cy="601.1" r="2.05" fill="#7bbc63" fill-opacity="0.75"/>
<circle cx="522.36" cy="664.19" r="4.1" fill="#7bbc63" fill-opacity="0.75"/>
<circle cx="522.36" cy="706.25" r="2.05" fill="#cb8bbc" fill-opacity="0.75"/>
<circle cx="542.49" cy="622.13" r="2.05" fill="#7bbc63" fill-opacity="0.75"/>
<path d="M542.49 685.22 L542.49 681.12 A4.1 4.1 0 0 0 542.49 689.32 Z" fill="#7bbc63" fill-opacity="0.75"/>
<path d="M542.49 685.22 L542.49 689.32 A4.1 4.1 0 0 0 542.49 681.12 Z" fill="#cb8bbc" fill-opacity="0.75"/>
<path d="M542.49 727.28 L542.49 723.18 A4.1 4.1 0 0 0 542.49 731.38 Z" fill="#fed05e" fill-opacity="0.75"/>
<path d="M542.49 727.28 L542.49 731.38 A4.1 4.1 0 0 0 542.49 723.18 Z" fill="#cb8bbc" fill-opacity="0.75"/>
<circle cx="542.49" cy="769.34" r="2.05" fill="#7bbc63" fill-opacity="0.75"/>
<circle cx="542.49" cy="790.37" r="4.1" fill="#7bbc63" fill-opacity="0.75"/>
<circle cx="542.49" cy="853.46" r="6.15" fill="#fed05e" fill-opacity="0.75"/>
<circle cx="562.62" cy="622.13" r="2.05" fill="#cb8bbc" fill-opacity="0.75"/>
<circle cx="562.62" cy="664.19" r="2.05" fill="#cb8bbc" fill-opacity="0.75"/>
<circle cx="562.62" cy="685.22" r="8.2" fill="#cb8bbc" fill-opacity="0.75"/>
<circle cx="562.62" cy="706.25" r="8.2" fill="#cb8bbc" fill-opacity="0.75"/>
<circle cx="562.62" cy="769.34" r="4.1" fill="#7bbc63" fill-opacity="0.75"/>
<circle cx="562.62" cy="853.46" r="2.05" fill="#fed05e" fill-opacity="0.75"/>
<circle cx="582.75" cy="643.16" r="2.05" fill="#cb8bbc" fill-opacity="0.75"/>
<circle cx="582.75" cy="685.22" r="8.2" fill="#cb8bbc" fill-opacity="0.75"/>
<circle cx="582.75" cy="706.25" r="2.05" fill="#cb8bbc" fill-opacity="0.75"/>
<path d="M582.75 832.43 L582.75 828.33 A4.1 4.1 0 0 0 582.75 836.53 Z" fill="#fed05e" fill-opacity="0.75"/>
<path d="M582.75 832.43 L582.75 836.53 A4.1 4.1 0 0 0 582.75 828.33 Z" fill="#5c72b8" fill-opacity="0.75"/>
<circle cx="582.75" cy="853.46" r="6.15" fill="#fed05e" fill-opacity="0.75"/>
<circle cx="602.88" cy="685.22" r="2.05" fill="#cb8bbc" fill-opacity="0.75"/>
<circle cx="628" cy="790.37" r="2.05" fill="#7bbc63" fill-opacity="0.75"/>
<text x="9.4" y="890.2" font-size="10" fill="#1a1a1a" text-anchor="start" textLength="35.2" lengthAdjust="spacingAndGlyphs">Bed unit</text>
<text x="59.2" y="890.4" font-size="8.4" fill="#555555" text-anchor="middle">1</text>
<text x="79.8" y="890.4" font-size="8.4" fill="#555555" text-anchor="middle">2</text>
<text x="99.9" y="890.4" font-size="8.4" fill="#555555" text-anchor="middle">3</text>
<text x="120.5" y="890.4" font-size="8.4" fill="#555555" text-anchor="middle">4</text>
<text x="140.4" y="890.4" font-size="8.4" fill="#555555" text-anchor="middle">5</text>
<text x="160.4" y="890.4" font-size="8.4" fill="#555555" text-anchor="middle">6</text>
<text x="180.4" y="890.4" font-size="8.4" fill="#555555" text-anchor="middle">7</text>
<text x="201" y="890.4" font-size="8.4" fill="#555555" text-anchor="middle">8</text>
<text x="221.4" y="890.4" font-size="8.4" fill="#555555" text-anchor="middle">9</text>
<text x="241.6" y="890.4" font-size="8.4" fill="#555555" text-anchor="middle">10</text>
<text x="261" y="890.4" font-size="8.4" fill="#555555" text-anchor="middle">11</text>
<text x="281.6" y="890.4" font-size="8.4" fill="#555555" text-anchor="middle">12</text>
<text x="301.6" y="890.4" font-size="8.4" fill="#555555" text-anchor="middle">13</text>
<text x="321.6" y="890.4" font-size="8.4" fill="#555555" text-anchor="middle">14</text>
<text x="341.6" y="890.4" font-size="8.4" fill="#555555" text-anchor="middle">15</text>
<text x="362.2" y="890.4" font-size="8.4" fill="#555555" text-anchor="middle">16</text>
<text x="382.4" y="890.4" font-size="8.4" fill="#555555" text-anchor="middle">17</text>
<text x="401.9" y="890.4" font-size="8.4" fill="#555555" text-anchor="middle">18</text>
<text x="422" y="890.4" font-size="8.4" fill="#555555" text-anchor="middle">19</text>
<text x="442.6" y="890.4" font-size="8.4" fill="#555555" text-anchor="middle">20</text>
<text x="462.3" y="890.4" font-size="8.4" fill="#555555" text-anchor="middle">21</text>
<text x="482.9" y="890.4" font-size="8.4" fill="#555555" text-anchor="middle">22</text>
<text x="502.2" y="890.4" font-size="8.4" fill="#555555" text-anchor="middle">23</text>
<text x="522.9" y="890.4" font-size="8.4" fill="#555555" text-anchor="middle">24</text>
<text x="542.8" y="890.4" font-size="8.4" fill="#555555" text-anchor="middle">25</text>
<text x="562.8" y="890.4" font-size="8.4" fill="#555555" text-anchor="middle">26</text>
<text x="582.9" y="890.4" font-size="8.4" fill="#555555" text-anchor="middle">27</text>
<text x="602.5" y="890.4" font-size="8.4" fill="#555555" text-anchor="middle">28</text>
<g stroke="#454545" stroke-width="1.5">
<line x1="53.27" y1="899" x2="65.47" y2="899"/>
<line x1="73.4" y1="899" x2="105.73" y2="899"/>
<line x1="113.66" y1="899" x2="145.99" y2="899"/>
<line x1="153.92" y1="899" x2="186.25" y2="899"/>
<line x1="194.18" y1="899" x2="226.51" y2="899"/>
<line x1="234.44" y1="899" x2="266.77" y2="899"/>
<line x1="274.7" y1="899" x2="387.55" y2="899"/>
<line x1="395.48" y1="899" x2="427.81" y2="899"/>
<line x1="435.74" y1="899" x2="468.07" y2="899"/>
<line x1="476" y1="899" x2="508.33" y2="899"/>
<line x1="516.26" y1="899" x2="548.59" y2="899"/>
<line x1="556.52" y1="899" x2="588.85" y2="899"/>
<line x1="596.78" y1="899" x2="608.98" y2="899"/>
</g>
<text x="59.4" y="910.4" font-size="8.4" fill="#555555" text-anchor="middle">1</text>
<text x="89.8" y="910.4" font-size="8.4" fill="#555555" text-anchor="middle">2</text>
<text x="131" y="910.4" font-size="8.4" fill="#555555" text-anchor="middle">3</text>
<text x="172.3" y="910.4" font-size="8.4" fill="#555555" text-anchor="middle">4</text>
<text x="213" y="910.4" font-size="8.4" fill="#555555" text-anchor="middle">5</text>
<text x="253.4" y="910.4" font-size="8.4" fill="#555555" text-anchor="middle">6</text>
<text x="333.4" y="910.4" font-size="8.4" fill="#555555" text-anchor="middle">7</text>
<text x="413.8" y="910.4" font-size="8.4" fill="#555555" text-anchor="middle">8</text>
<text x="454.1" y="910.4" font-size="8.4" fill="#555555" text-anchor="middle">9</text>
<text x="492.4" y="910.4" font-size="8.4" fill="#555555" text-anchor="middle">10</text>
<text x="533" y="910.4" font-size="8.4" fill="#555555" text-anchor="middle">11</text>
<text x="573.4" y="910.4" font-size="8.4" fill="#555555" text-anchor="middle">12</text>
<text x="602.2" y="910.4" font-size="8.4" fill="#555555" text-anchor="middle">13</text>
<text x="9.3" y="910.55" font-size="10.1" fill="#1a1a1a" text-anchor="start" textLength="25.9" lengthAdjust="spacingAndGlyphs">Room</text>
<text x="629.5" y="889" font-size="8.6" fill="#555555" text-anchor="middle" textLength="29.6" lengthAdjust="spacingAndGlyphs">common</text>
<text x="629.5" y="898.4" font-size="8.6" fill="#555555" text-anchor="middle" textLength="19.2" lengthAdjust="spacingAndGlyphs">areas</text>
<text transform="translate(-1 581.5) scale(0.93 1)" font-size="14.2" fill="#1a1a1a" text-anchor="start">C.</text>
<text x="22.1" y="579.9" font-size="9.8" fill="#1a1a1a" text-anchor="start" textLength="95.6" lengthAdjust="spacingAndGlyphs">Environmental isolates</text>
</svg>
</body></html>
